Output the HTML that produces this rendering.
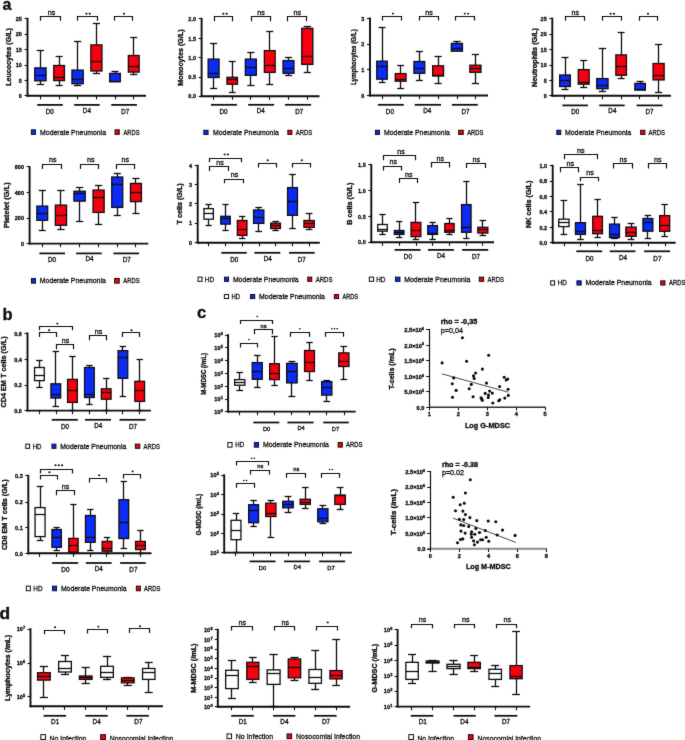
<!DOCTYPE html>
<html><head><meta charset="utf-8"><title>figure</title>
<style>
html,body{margin:0;padding:0;background:#fff;}
body{width:685px;height:740px;overflow:hidden;}
svg{display:block;font-family:"Liberation Sans", sans-serif;will-change:transform;}
text{fill:#0d0d0d;stroke:#0d0d0d;stroke-width:0.3px;}
text[font-weight=bold]{stroke-width:0.34px;}
</style></head>
<body>
<svg width="685" height="740" viewBox="0 0 685 740">
<defs><filter id="soft" x="0" y="0" width="685" height="740" filterUnits="userSpaceOnUse" color-interpolation-filters="sRGB"><feConvolveMatrix order="3" kernelMatrix="0.015 0.06 0.015 0.06 0.7 0.06 0.015 0.06 0.015" edgeMode="duplicate"/></filter></defs>
<g filter="url(#soft)">
<rect width="685" height="740" fill="#fff"/>
<line x1="27.5" y1="17.75" x2="27.5" y2="96.75" stroke="#0d0d0d" stroke-width="1.9" stroke-linecap="butt"/>
<line x1="26.65" y1="95.8" x2="146" y2="95.8" stroke="#0d0d0d" stroke-width="1.9" stroke-linecap="butt"/>
<line x1="24.5" y1="18.5" x2="27.5" y2="18.5" stroke="#0d0d0d" stroke-width="1.1" stroke-linecap="butt"/>
<text x="21.9" y="20.8" font-size="6.2" font-weight="bold" text-anchor="end" textLength="6.12" lengthAdjust="spacingAndGlyphs">25</text>
<line x1="24.5" y1="34.5" x2="27.5" y2="34.5" stroke="#0d0d0d" stroke-width="1.1" stroke-linecap="butt"/>
<text x="21.9" y="36.3" font-size="6.2" font-weight="bold" text-anchor="end" textLength="6.12" lengthAdjust="spacingAndGlyphs">20</text>
<line x1="24.5" y1="49.5" x2="27.5" y2="49.5" stroke="#0d0d0d" stroke-width="1.1" stroke-linecap="butt"/>
<text x="21.9" y="51.8" font-size="6.2" font-weight="bold" text-anchor="end" textLength="6.12" lengthAdjust="spacingAndGlyphs">15</text>
<line x1="24.5" y1="65.5" x2="27.5" y2="65.5" stroke="#0d0d0d" stroke-width="1.1" stroke-linecap="butt"/>
<text x="21.9" y="67.3" font-size="6.2" font-weight="bold" text-anchor="end" textLength="6.12" lengthAdjust="spacingAndGlyphs">10</text>
<line x1="24.5" y1="80.5" x2="27.5" y2="80.5" stroke="#0d0d0d" stroke-width="1.1" stroke-linecap="butt"/>
<text x="21.9" y="82.7" font-size="6.2" font-weight="bold" text-anchor="end" textLength="3.06" lengthAdjust="spacingAndGlyphs">5</text>
<line x1="24.5" y1="95.5" x2="27.5" y2="95.5" stroke="#0d0d0d" stroke-width="1.1" stroke-linecap="butt"/>
<text x="21.9" y="98" font-size="6.2" font-weight="bold" text-anchor="end" textLength="3.06" lengthAdjust="spacingAndGlyphs">0</text>
<line x1="40.5" y1="95.8" x2="40.5" y2="99.4" stroke="#0d0d0d" stroke-width="1.1" stroke-linecap="butt"/>
<line x1="59.5" y1="95.8" x2="59.5" y2="99.4" stroke="#0d0d0d" stroke-width="1.1" stroke-linecap="butt"/>
<line x1="77.5" y1="95.8" x2="77.5" y2="99.4" stroke="#0d0d0d" stroke-width="1.1" stroke-linecap="butt"/>
<line x1="96.5" y1="95.8" x2="96.5" y2="99.4" stroke="#0d0d0d" stroke-width="1.1" stroke-linecap="butt"/>
<line x1="115.5" y1="95.8" x2="115.5" y2="99.4" stroke="#0d0d0d" stroke-width="1.1" stroke-linecap="butt"/>
<line x1="133.5" y1="95.8" x2="133.5" y2="99.4" stroke="#0d0d0d" stroke-width="1.1" stroke-linecap="butt"/>
<text transform="translate(10.8,57) rotate(-90)" x="0" y="0" font-size="8.1" font-weight="bold" text-anchor="middle" textLength="57.7" lengthAdjust="spacingAndGlyphs">Leucocytes (G/L)</text>
<line x1="40.5" y1="50.1" x2="40.5" y2="67.9" stroke="#0d0d0d" stroke-width="1.3" stroke-linecap="butt"/>
<line x1="36.75" y1="50.5" x2="44.05" y2="50.5" stroke="#0d0d0d" stroke-width="1.3" stroke-linecap="butt"/>
<line x1="40.5" y1="80.8" x2="40.5" y2="84.2" stroke="#0d0d0d" stroke-width="1.3" stroke-linecap="butt"/>
<line x1="36.75" y1="84.5" x2="44.05" y2="84.5" stroke="#0d0d0d" stroke-width="1.3" stroke-linecap="butt"/>
<rect x="34.75" y="67.9" width="11.3" height="12.9" fill="#0b2cf6" stroke="#0d0d0d" stroke-width="1.3"/>
<line x1="34.75" y1="75.5" x2="46.05" y2="75.5" stroke="#0d0d0d" stroke-width="1.3" stroke-linecap="butt"/>
<line x1="59.5" y1="56.5" x2="59.5" y2="65.5" stroke="#0d0d0d" stroke-width="1.3" stroke-linecap="butt"/>
<line x1="55.62" y1="56.5" x2="62.58" y2="56.5" stroke="#0d0d0d" stroke-width="1.3" stroke-linecap="butt"/>
<line x1="59.5" y1="80.6" x2="59.5" y2="85.2" stroke="#0d0d0d" stroke-width="1.3" stroke-linecap="butt"/>
<line x1="55.62" y1="85.5" x2="62.58" y2="85.5" stroke="#0d0d0d" stroke-width="1.3" stroke-linecap="butt"/>
<rect x="53.75" y="65.5" width="10.7" height="15.1" fill="#f7000f" stroke="#0d0d0d" stroke-width="1.3"/>
<line x1="53.75" y1="77.5" x2="64.45" y2="77.5" stroke="#0d0d0d" stroke-width="1.3" stroke-linecap="butt"/>
<line x1="77.5" y1="41.5" x2="77.5" y2="70.1" stroke="#0d0d0d" stroke-width="1.3" stroke-linecap="butt"/>
<line x1="73.95" y1="41.5" x2="81.25" y2="41.5" stroke="#0d0d0d" stroke-width="1.3" stroke-linecap="butt"/>
<line x1="77.5" y1="83.7" x2="77.5" y2="85" stroke="#0d0d0d" stroke-width="1.3" stroke-linecap="butt"/>
<line x1="73.95" y1="85.5" x2="81.25" y2="85.5" stroke="#0d0d0d" stroke-width="1.3" stroke-linecap="butt"/>
<rect x="71.95" y="70.1" width="11.3" height="13.6" fill="#0b2cf6" stroke="#0d0d0d" stroke-width="1.3"/>
<line x1="71.95" y1="79.5" x2="83.25" y2="79.5" stroke="#0d0d0d" stroke-width="1.3" stroke-linecap="butt"/>
<line x1="96.5" y1="23" x2="96.5" y2="44.9" stroke="#0d0d0d" stroke-width="1.3" stroke-linecap="butt"/>
<line x1="92.8" y1="23.5" x2="100" y2="23.5" stroke="#0d0d0d" stroke-width="1.3" stroke-linecap="butt"/>
<line x1="96.5" y1="71" x2="96.5" y2="73.1" stroke="#0d0d0d" stroke-width="1.3" stroke-linecap="butt"/>
<line x1="92.8" y1="73.5" x2="100" y2="73.5" stroke="#0d0d0d" stroke-width="1.3" stroke-linecap="butt"/>
<rect x="90.85" y="44.9" width="11.1" height="26.1" fill="#f7000f" stroke="#0d0d0d" stroke-width="1.3"/>
<line x1="90.85" y1="61.5" x2="101.95" y2="61.5" stroke="#0d0d0d" stroke-width="1.3" stroke-linecap="butt"/>
<line x1="115.5" y1="71.2" x2="115.5" y2="73.4" stroke="#0d0d0d" stroke-width="1.3" stroke-linecap="butt"/>
<line x1="111.52" y1="71.5" x2="118.48" y2="71.5" stroke="#0d0d0d" stroke-width="1.3" stroke-linecap="butt"/>
<rect x="109.65" y="73.4" width="10.7" height="8.3" fill="#0b2cf6" stroke="#0d0d0d" stroke-width="1.3"/>
<line x1="109.65" y1="81.5" x2="120.35" y2="81.5" stroke="#0d0d0d" stroke-width="1.3" stroke-linecap="butt"/>
<line x1="133.5" y1="37.1" x2="133.5" y2="55.5" stroke="#0d0d0d" stroke-width="1.3" stroke-linecap="butt"/>
<line x1="130.24" y1="37.5" x2="137.26" y2="37.5" stroke="#0d0d0d" stroke-width="1.3" stroke-linecap="butt"/>
<line x1="133.5" y1="72.1" x2="133.5" y2="74.5" stroke="#0d0d0d" stroke-width="1.3" stroke-linecap="butt"/>
<line x1="130.24" y1="74.5" x2="137.26" y2="74.5" stroke="#0d0d0d" stroke-width="1.3" stroke-linecap="butt"/>
<rect x="128.35" y="55.5" width="10.8" height="16.6" fill="#f7000f" stroke="#0d0d0d" stroke-width="1.3"/>
<line x1="128.35" y1="66.5" x2="139.15" y2="66.5" stroke="#0d0d0d" stroke-width="1.3" stroke-linecap="butt"/>
<path d="M40.5 20.8V16.5H60.5V20.8" fill="none" stroke="#0d0d0d" stroke-width="1.2"/>
<text x="51.5" y="14.8" font-size="7.2" text-anchor="middle">ns</text>
<path d="M77.5 20.8V16.5H97.5V20.8" fill="none" stroke="#0d0d0d" stroke-width="1.2"/>
<ellipse cx="86.45" cy="13.8" rx="1.1" ry="0.95" fill="#0d0d0d"/>
<ellipse cx="89.75" cy="13.8" rx="1.1" ry="0.95" fill="#0d0d0d"/>
<path d="M114.5 20.8V16.5H132.5V20.8" fill="none" stroke="#0d0d0d" stroke-width="1.2"/>
<ellipse cx="124" cy="13.8" rx="1.1" ry="0.95" fill="#0d0d0d"/>
<line x1="37.2" y1="104.9" x2="62.8" y2="104.9" stroke="#0d0d0d" stroke-width="1.75" stroke-linecap="butt"/>
<text x="49.8" y="113.9" font-size="6.3" text-anchor="middle">D0</text>
<line x1="74.2" y1="104.9" x2="99.7" y2="104.9" stroke="#0d0d0d" stroke-width="1.75" stroke-linecap="butt"/>
<text x="86.9" y="113" font-size="6.3" text-anchor="middle">D4</text>
<line x1="111.2" y1="104.9" x2="136.9" y2="104.9" stroke="#0d0d0d" stroke-width="1.75" stroke-linecap="butt"/>
<text x="125.2" y="113.9" font-size="6.3" text-anchor="middle">D7</text>
<rect x="31.35" y="129.85" width="4.1" height="4.5" fill="#0b2cf6" stroke="#0d0d0d" stroke-width="1"/>
<text x="40.1" y="134.6" font-size="7.9" text-anchor="start" textLength="65.9" lengthAdjust="spacingAndGlyphs">Moderate Pneumonia</text>
<rect x="115.05" y="129.85" width="4.2" height="4.5" fill="#f7000f" stroke="#0d0d0d" stroke-width="1"/>
<text x="123.5" y="134.6" font-size="7.9" text-anchor="start" textLength="16" lengthAdjust="spacingAndGlyphs">ARDS</text>
<line x1="201.6" y1="17.75" x2="201.6" y2="97.15" stroke="#0d0d0d" stroke-width="1.9" stroke-linecap="butt"/>
<line x1="200.75" y1="96.2" x2="319.5" y2="96.2" stroke="#0d0d0d" stroke-width="1.9" stroke-linecap="butt"/>
<line x1="198.6" y1="18.5" x2="201.6" y2="18.5" stroke="#0d0d0d" stroke-width="1.1" stroke-linecap="butt"/>
<text x="196" y="20.8" font-size="6.2" font-weight="bold" text-anchor="end" textLength="7.64" lengthAdjust="spacingAndGlyphs">2.0</text>
<line x1="198.6" y1="38.5" x2="201.6" y2="38.5" stroke="#0d0d0d" stroke-width="1.1" stroke-linecap="butt"/>
<text x="196" y="40.5" font-size="6.2" font-weight="bold" text-anchor="end" textLength="7.64" lengthAdjust="spacingAndGlyphs">1.5</text>
<line x1="198.6" y1="57.5" x2="201.6" y2="57.5" stroke="#0d0d0d" stroke-width="1.1" stroke-linecap="butt"/>
<text x="196" y="59.7" font-size="6.2" font-weight="bold" text-anchor="end" textLength="7.64" lengthAdjust="spacingAndGlyphs">1.0</text>
<line x1="198.6" y1="77.5" x2="201.6" y2="77.5" stroke="#0d0d0d" stroke-width="1.1" stroke-linecap="butt"/>
<text x="196" y="79.2" font-size="6.2" font-weight="bold" text-anchor="end" textLength="7.64" lengthAdjust="spacingAndGlyphs">0.5</text>
<line x1="198.6" y1="96.5" x2="201.6" y2="96.5" stroke="#0d0d0d" stroke-width="1.1" stroke-linecap="butt"/>
<text x="196" y="98.4" font-size="6.2" font-weight="bold" text-anchor="end" textLength="7.64" lengthAdjust="spacingAndGlyphs">0.0</text>
<line x1="213.5" y1="96.2" x2="213.5" y2="99.8" stroke="#0d0d0d" stroke-width="1.1" stroke-linecap="butt"/>
<line x1="232.5" y1="96.2" x2="232.5" y2="99.8" stroke="#0d0d0d" stroke-width="1.1" stroke-linecap="butt"/>
<line x1="250.5" y1="96.2" x2="250.5" y2="99.8" stroke="#0d0d0d" stroke-width="1.1" stroke-linecap="butt"/>
<line x1="269.5" y1="96.2" x2="269.5" y2="99.8" stroke="#0d0d0d" stroke-width="1.1" stroke-linecap="butt"/>
<line x1="288.5" y1="96.2" x2="288.5" y2="99.8" stroke="#0d0d0d" stroke-width="1.1" stroke-linecap="butt"/>
<line x1="307.5" y1="96.2" x2="307.5" y2="99.8" stroke="#0d0d0d" stroke-width="1.1" stroke-linecap="butt"/>
<text transform="translate(182.6,57.5) rotate(-90)" x="0" y="0" font-size="8.1" font-weight="bold" text-anchor="middle" textLength="56.5" lengthAdjust="spacingAndGlyphs">Monocytes (G/L)</text>
<line x1="213.5" y1="43.1" x2="213.5" y2="59.1" stroke="#0d0d0d" stroke-width="1.3" stroke-linecap="butt"/>
<line x1="210.06" y1="43.5" x2="217.14" y2="43.5" stroke="#0d0d0d" stroke-width="1.3" stroke-linecap="butt"/>
<line x1="213.5" y1="77.5" x2="213.5" y2="88.2" stroke="#0d0d0d" stroke-width="1.3" stroke-linecap="butt"/>
<line x1="210.06" y1="88.5" x2="217.14" y2="88.5" stroke="#0d0d0d" stroke-width="1.3" stroke-linecap="butt"/>
<rect x="208.15" y="59.1" width="10.9" height="18.4" fill="#0b2cf6" stroke="#0d0d0d" stroke-width="1.3"/>
<line x1="208.15" y1="73.5" x2="219.05" y2="73.5" stroke="#0d0d0d" stroke-width="1.3" stroke-linecap="butt"/>
<line x1="232.5" y1="61.2" x2="232.5" y2="77.3" stroke="#0d0d0d" stroke-width="1.3" stroke-linecap="butt"/>
<line x1="228.78" y1="61.5" x2="235.62" y2="61.5" stroke="#0d0d0d" stroke-width="1.3" stroke-linecap="butt"/>
<line x1="232.5" y1="84.2" x2="232.5" y2="92.4" stroke="#0d0d0d" stroke-width="1.3" stroke-linecap="butt"/>
<line x1="228.78" y1="92.5" x2="235.62" y2="92.5" stroke="#0d0d0d" stroke-width="1.3" stroke-linecap="butt"/>
<rect x="226.95" y="77.3" width="10.5" height="6.9" fill="#f7000f" stroke="#0d0d0d" stroke-width="1.3"/>
<line x1="226.95" y1="79.5" x2="237.45" y2="79.5" stroke="#0d0d0d" stroke-width="1.3" stroke-linecap="butt"/>
<line x1="250.5" y1="52.7" x2="250.5" y2="59.1" stroke="#0d0d0d" stroke-width="1.3" stroke-linecap="butt"/>
<line x1="247.28" y1="52.5" x2="254.42" y2="52.5" stroke="#0d0d0d" stroke-width="1.3" stroke-linecap="butt"/>
<line x1="250.5" y1="75.3" x2="250.5" y2="85.4" stroke="#0d0d0d" stroke-width="1.3" stroke-linecap="butt"/>
<line x1="247.28" y1="85.5" x2="254.42" y2="85.5" stroke="#0d0d0d" stroke-width="1.3" stroke-linecap="butt"/>
<rect x="245.35" y="59.1" width="11" height="16.2" fill="#0b2cf6" stroke="#0d0d0d" stroke-width="1.3"/>
<line x1="245.35" y1="67.5" x2="256.35" y2="67.5" stroke="#0d0d0d" stroke-width="1.3" stroke-linecap="butt"/>
<line x1="269.5" y1="31.7" x2="269.5" y2="50.6" stroke="#0d0d0d" stroke-width="1.3" stroke-linecap="butt"/>
<line x1="266.24" y1="31.5" x2="273.26" y2="31.5" stroke="#0d0d0d" stroke-width="1.3" stroke-linecap="butt"/>
<line x1="269.5" y1="72.4" x2="269.5" y2="84.5" stroke="#0d0d0d" stroke-width="1.3" stroke-linecap="butt"/>
<line x1="266.24" y1="84.5" x2="273.26" y2="84.5" stroke="#0d0d0d" stroke-width="1.3" stroke-linecap="butt"/>
<rect x="264.35" y="50.6" width="10.8" height="21.8" fill="#f7000f" stroke="#0d0d0d" stroke-width="1.3"/>
<line x1="264.35" y1="65.5" x2="275.15" y2="65.5" stroke="#0d0d0d" stroke-width="1.3" stroke-linecap="butt"/>
<line x1="288.5" y1="57.6" x2="288.5" y2="60.6" stroke="#0d0d0d" stroke-width="1.3" stroke-linecap="butt"/>
<line x1="284.96" y1="57.5" x2="292.04" y2="57.5" stroke="#0d0d0d" stroke-width="1.3" stroke-linecap="butt"/>
<line x1="288.5" y1="73.3" x2="288.5" y2="75.6" stroke="#0d0d0d" stroke-width="1.3" stroke-linecap="butt"/>
<line x1="284.96" y1="75.5" x2="292.04" y2="75.5" stroke="#0d0d0d" stroke-width="1.3" stroke-linecap="butt"/>
<rect x="283.05" y="60.6" width="10.9" height="12.7" fill="#0b2cf6" stroke="#0d0d0d" stroke-width="1.3"/>
<line x1="283.05" y1="68.5" x2="293.95" y2="68.5" stroke="#0d0d0d" stroke-width="1.3" stroke-linecap="butt"/>
<line x1="307.5" y1="26.4" x2="307.5" y2="28.3" stroke="#0d0d0d" stroke-width="1.3" stroke-linecap="butt"/>
<line x1="303.7" y1="26.5" x2="310.9" y2="26.5" stroke="#0d0d0d" stroke-width="1.3" stroke-linecap="butt"/>
<line x1="307.5" y1="64.4" x2="307.5" y2="72" stroke="#0d0d0d" stroke-width="1.3" stroke-linecap="butt"/>
<line x1="303.7" y1="72.5" x2="310.9" y2="72.5" stroke="#0d0d0d" stroke-width="1.3" stroke-linecap="butt"/>
<rect x="301.75" y="28.3" width="11.1" height="36.1" fill="#f7000f" stroke="#0d0d0d" stroke-width="1.3"/>
<line x1="301.75" y1="56.5" x2="312.85" y2="56.5" stroke="#0d0d0d" stroke-width="1.3" stroke-linecap="butt"/>
<path d="M214.5 21.2V16.5H232.5V21.2" fill="none" stroke="#0d0d0d" stroke-width="1.2"/>
<ellipse cx="223.35" cy="13.8" rx="1.1" ry="0.95" fill="#0d0d0d"/>
<ellipse cx="226.65" cy="13.8" rx="1.1" ry="0.95" fill="#0d0d0d"/>
<path d="M251.5 21.2V16.5H270.5V21.2" fill="none" stroke="#0d0d0d" stroke-width="1.2"/>
<text x="261" y="14.8" font-size="7.2" text-anchor="middle">ns</text>
<path d="M287.5 21.2V16.5H306.5V21.2" fill="none" stroke="#0d0d0d" stroke-width="1.2"/>
<text x="297.4" y="14.8" font-size="7.2" text-anchor="middle">ns</text>
<line x1="211" y1="104.8" x2="236.9" y2="104.8" stroke="#0d0d0d" stroke-width="1.75" stroke-linecap="butt"/>
<text x="223.6" y="113.6" font-size="6.3" text-anchor="middle">D0</text>
<line x1="248.1" y1="104.8" x2="274.1" y2="104.8" stroke="#0d0d0d" stroke-width="1.75" stroke-linecap="butt"/>
<text x="260.8" y="112.7" font-size="6.3" text-anchor="middle">D4</text>
<line x1="284.9" y1="104.8" x2="311.1" y2="104.8" stroke="#0d0d0d" stroke-width="1.75" stroke-linecap="butt"/>
<text x="299.2" y="113.6" font-size="6.3" text-anchor="middle">D7</text>
<rect x="203.85" y="130.25" width="4.2" height="4.2" fill="#0b2cf6" stroke="#0d0d0d" stroke-width="1"/>
<text x="213" y="134.7" font-size="7.9" text-anchor="start" textLength="65.8" lengthAdjust="spacingAndGlyphs">Moderate Pneumonia</text>
<rect x="287.85" y="130.25" width="4" height="4.2" fill="#f7000f" stroke="#0d0d0d" stroke-width="1"/>
<text x="295.8" y="134.7" font-size="7.9" text-anchor="start" textLength="16.3" lengthAdjust="spacingAndGlyphs">ARDS</text>
<line x1="370" y1="17.55" x2="370" y2="96.45" stroke="#0d0d0d" stroke-width="1.9" stroke-linecap="butt"/>
<line x1="369.15" y1="95.5" x2="488" y2="95.5" stroke="#0d0d0d" stroke-width="1.9" stroke-linecap="butt"/>
<line x1="367" y1="18.5" x2="370" y2="18.5" stroke="#0d0d0d" stroke-width="1.1" stroke-linecap="butt"/>
<text x="364.4" y="20.6" font-size="6.2" font-weight="bold" text-anchor="end" textLength="3.06" lengthAdjust="spacingAndGlyphs">3</text>
<line x1="367" y1="44.5" x2="370" y2="44.5" stroke="#0d0d0d" stroke-width="1.1" stroke-linecap="butt"/>
<text x="364.4" y="46.4" font-size="6.2" font-weight="bold" text-anchor="end" textLength="3.06" lengthAdjust="spacingAndGlyphs">2</text>
<line x1="367" y1="69.5" x2="370" y2="69.5" stroke="#0d0d0d" stroke-width="1.1" stroke-linecap="butt"/>
<text x="364.4" y="72" font-size="6.2" font-weight="bold" text-anchor="end" textLength="3.06" lengthAdjust="spacingAndGlyphs">1</text>
<line x1="367" y1="95.5" x2="370" y2="95.5" stroke="#0d0d0d" stroke-width="1.1" stroke-linecap="butt"/>
<text x="364.4" y="97.7" font-size="6.2" font-weight="bold" text-anchor="end" textLength="3.06" lengthAdjust="spacingAndGlyphs">0</text>
<line x1="382.5" y1="95.5" x2="382.5" y2="99.1" stroke="#0d0d0d" stroke-width="1.1" stroke-linecap="butt"/>
<line x1="400.5" y1="95.5" x2="400.5" y2="99.1" stroke="#0d0d0d" stroke-width="1.1" stroke-linecap="butt"/>
<line x1="419.5" y1="95.5" x2="419.5" y2="99.1" stroke="#0d0d0d" stroke-width="1.1" stroke-linecap="butt"/>
<line x1="438.5" y1="95.5" x2="438.5" y2="99.1" stroke="#0d0d0d" stroke-width="1.1" stroke-linecap="butt"/>
<line x1="457.5" y1="95.5" x2="457.5" y2="99.1" stroke="#0d0d0d" stroke-width="1.1" stroke-linecap="butt"/>
<line x1="475.5" y1="95.5" x2="475.5" y2="99.1" stroke="#0d0d0d" stroke-width="1.1" stroke-linecap="butt"/>
<text transform="translate(356.4,57.2) rotate(-90)" x="0" y="0" font-size="8.1" font-weight="bold" text-anchor="middle" textLength="55.8" lengthAdjust="spacingAndGlyphs">Lymphocytes (G/L)</text>
<line x1="382.5" y1="27.3" x2="382.5" y2="61.2" stroke="#0d0d0d" stroke-width="1.3" stroke-linecap="butt"/>
<line x1="378.58" y1="27.5" x2="385.42" y2="27.5" stroke="#0d0d0d" stroke-width="1.3" stroke-linecap="butt"/>
<line x1="382.5" y1="79.2" x2="382.5" y2="82.5" stroke="#0d0d0d" stroke-width="1.3" stroke-linecap="butt"/>
<line x1="378.58" y1="82.5" x2="385.42" y2="82.5" stroke="#0d0d0d" stroke-width="1.3" stroke-linecap="butt"/>
<rect x="376.75" y="61.2" width="10.5" height="18" fill="#0b2cf6" stroke="#0d0d0d" stroke-width="1.3"/>
<line x1="376.75" y1="66.5" x2="387.25" y2="66.5" stroke="#0d0d0d" stroke-width="1.3" stroke-linecap="butt"/>
<line x1="400.5" y1="65.7" x2="400.5" y2="73.6" stroke="#0d0d0d" stroke-width="1.3" stroke-linecap="butt"/>
<line x1="397.14" y1="65.5" x2="404.16" y2="65.5" stroke="#0d0d0d" stroke-width="1.3" stroke-linecap="butt"/>
<line x1="400.5" y1="81.2" x2="400.5" y2="88.2" stroke="#0d0d0d" stroke-width="1.3" stroke-linecap="butt"/>
<line x1="397.14" y1="88.5" x2="404.16" y2="88.5" stroke="#0d0d0d" stroke-width="1.3" stroke-linecap="butt"/>
<rect x="395.25" y="73.6" width="10.8" height="7.6" fill="#f7000f" stroke="#0d0d0d" stroke-width="1.3"/>
<line x1="395.25" y1="79.5" x2="406.05" y2="79.5" stroke="#0d0d0d" stroke-width="1.3" stroke-linecap="butt"/>
<line x1="419.5" y1="51.4" x2="419.5" y2="61.5" stroke="#0d0d0d" stroke-width="1.3" stroke-linecap="butt"/>
<line x1="415.84" y1="51.5" x2="422.86" y2="51.5" stroke="#0d0d0d" stroke-width="1.3" stroke-linecap="butt"/>
<line x1="419.5" y1="73.3" x2="419.5" y2="80.3" stroke="#0d0d0d" stroke-width="1.3" stroke-linecap="butt"/>
<line x1="415.84" y1="80.5" x2="422.86" y2="80.5" stroke="#0d0d0d" stroke-width="1.3" stroke-linecap="butt"/>
<rect x="413.95" y="61.5" width="10.8" height="11.8" fill="#0b2cf6" stroke="#0d0d0d" stroke-width="1.3"/>
<line x1="413.95" y1="68.5" x2="424.75" y2="68.5" stroke="#0d0d0d" stroke-width="1.3" stroke-linecap="butt"/>
<line x1="438.5" y1="56.2" x2="438.5" y2="65.8" stroke="#0d0d0d" stroke-width="1.3" stroke-linecap="butt"/>
<line x1="434.56" y1="56.5" x2="441.64" y2="56.5" stroke="#0d0d0d" stroke-width="1.3" stroke-linecap="butt"/>
<line x1="438.5" y1="76" x2="438.5" y2="83.4" stroke="#0d0d0d" stroke-width="1.3" stroke-linecap="butt"/>
<line x1="434.56" y1="83.5" x2="441.64" y2="83.5" stroke="#0d0d0d" stroke-width="1.3" stroke-linecap="butt"/>
<rect x="432.65" y="65.8" width="10.9" height="10.2" fill="#f7000f" stroke="#0d0d0d" stroke-width="1.3"/>
<line x1="432.65" y1="75.5" x2="443.55" y2="75.5" stroke="#0d0d0d" stroke-width="1.3" stroke-linecap="butt"/>
<line x1="456.5" y1="41.8" x2="456.5" y2="43.4" stroke="#0d0d0d" stroke-width="1.3" stroke-linecap="butt"/>
<line x1="453.3" y1="41.5" x2="460.5" y2="41.5" stroke="#0d0d0d" stroke-width="1.3" stroke-linecap="butt"/>
<rect x="451.35" y="43.4" width="11.1" height="7.8" fill="#0b2cf6" stroke="#0d0d0d" stroke-width="1.3"/>
<line x1="451.35" y1="48.5" x2="462.45" y2="48.5" stroke="#0d0d0d" stroke-width="1.3" stroke-linecap="butt"/>
<line x1="475.5" y1="54.7" x2="475.5" y2="65.2" stroke="#0d0d0d" stroke-width="1.3" stroke-linecap="butt"/>
<line x1="471.8" y1="54.5" x2="479" y2="54.5" stroke="#0d0d0d" stroke-width="1.3" stroke-linecap="butt"/>
<line x1="475.5" y1="72.3" x2="475.5" y2="83.2" stroke="#0d0d0d" stroke-width="1.3" stroke-linecap="butt"/>
<line x1="471.8" y1="83.5" x2="479" y2="83.5" stroke="#0d0d0d" stroke-width="1.3" stroke-linecap="butt"/>
<rect x="469.85" y="65.2" width="11.1" height="7.1" fill="#f7000f" stroke="#0d0d0d" stroke-width="1.3"/>
<line x1="469.85" y1="68.5" x2="480.95" y2="68.5" stroke="#0d0d0d" stroke-width="1.3" stroke-linecap="butt"/>
<path d="M382.5 20.6V16.5H401.5V20.6" fill="none" stroke="#0d0d0d" stroke-width="1.2"/>
<ellipse cx="393" cy="13.6" rx="1.1" ry="0.95" fill="#0d0d0d"/>
<path d="M419.5 20.6V16.5H438.5V20.6" fill="none" stroke="#0d0d0d" stroke-width="1.2"/>
<text x="429" y="14.6" font-size="7.2" text-anchor="middle">ns</text>
<path d="M455.5 20.6V16.5H474.5V20.6" fill="none" stroke="#0d0d0d" stroke-width="1.2"/>
<ellipse cx="464.85" cy="13.6" rx="1.1" ry="0.95" fill="#0d0d0d"/>
<ellipse cx="468.15" cy="13.6" rx="1.1" ry="0.95" fill="#0d0d0d"/>
<line x1="377.9" y1="104.8" x2="403.8" y2="104.8" stroke="#0d0d0d" stroke-width="1.75" stroke-linecap="butt"/>
<text x="389.9" y="113.6" font-size="6.3" text-anchor="middle">D0</text>
<line x1="414.7" y1="104.8" x2="441" y2="104.8" stroke="#0d0d0d" stroke-width="1.75" stroke-linecap="butt"/>
<text x="427.3" y="112.7" font-size="6.3" text-anchor="middle">D4</text>
<line x1="451.9" y1="104.8" x2="477.8" y2="104.8" stroke="#0d0d0d" stroke-width="1.75" stroke-linecap="butt"/>
<text x="465.6" y="113.6" font-size="6.3" text-anchor="middle">D7</text>
<rect x="375.45" y="130.25" width="4" height="4.2" fill="#0b2cf6" stroke="#0d0d0d" stroke-width="1"/>
<text x="384" y="134.7" font-size="7.9" text-anchor="start" textLength="65.8" lengthAdjust="spacingAndGlyphs">Moderate Pneumonia</text>
<rect x="458.65" y="130.25" width="4.6" height="4.2" fill="#f7000f" stroke="#0d0d0d" stroke-width="1"/>
<text x="467.2" y="134.7" font-size="7.9" text-anchor="start" textLength="16.3" lengthAdjust="spacingAndGlyphs">ARDS</text>
<line x1="552.3" y1="17.65" x2="552.3" y2="96.65" stroke="#0d0d0d" stroke-width="1.9" stroke-linecap="butt"/>
<line x1="551.45" y1="95.7" x2="671" y2="95.7" stroke="#0d0d0d" stroke-width="1.9" stroke-linecap="butt"/>
<line x1="549.3" y1="18.5" x2="552.3" y2="18.5" stroke="#0d0d0d" stroke-width="1.1" stroke-linecap="butt"/>
<text x="546.7" y="20.7" font-size="6.2" font-weight="bold" text-anchor="end" textLength="6.12" lengthAdjust="spacingAndGlyphs">25</text>
<line x1="549.3" y1="34.5" x2="552.3" y2="34.5" stroke="#0d0d0d" stroke-width="1.1" stroke-linecap="butt"/>
<text x="546.7" y="36.4" font-size="6.2" font-weight="bold" text-anchor="end" textLength="6.12" lengthAdjust="spacingAndGlyphs">20</text>
<line x1="549.3" y1="49.5" x2="552.3" y2="49.5" stroke="#0d0d0d" stroke-width="1.1" stroke-linecap="butt"/>
<text x="546.7" y="51.9" font-size="6.2" font-weight="bold" text-anchor="end" textLength="6.12" lengthAdjust="spacingAndGlyphs">15</text>
<line x1="549.3" y1="65.5" x2="552.3" y2="65.5" stroke="#0d0d0d" stroke-width="1.1" stroke-linecap="butt"/>
<text x="546.7" y="67.4" font-size="6.2" font-weight="bold" text-anchor="end" textLength="6.12" lengthAdjust="spacingAndGlyphs">10</text>
<line x1="549.3" y1="80.5" x2="552.3" y2="80.5" stroke="#0d0d0d" stroke-width="1.1" stroke-linecap="butt"/>
<text x="546.7" y="82.7" font-size="6.2" font-weight="bold" text-anchor="end" textLength="3.06" lengthAdjust="spacingAndGlyphs">5</text>
<line x1="549.3" y1="95.5" x2="552.3" y2="95.5" stroke="#0d0d0d" stroke-width="1.1" stroke-linecap="butt"/>
<text x="546.7" y="97.9" font-size="6.2" font-weight="bold" text-anchor="end" textLength="3.06" lengthAdjust="spacingAndGlyphs">0</text>
<line x1="564.5" y1="95.7" x2="564.5" y2="99.3" stroke="#0d0d0d" stroke-width="1.1" stroke-linecap="butt"/>
<line x1="583.5" y1="95.7" x2="583.5" y2="99.3" stroke="#0d0d0d" stroke-width="1.1" stroke-linecap="butt"/>
<line x1="602.5" y1="95.7" x2="602.5" y2="99.3" stroke="#0d0d0d" stroke-width="1.1" stroke-linecap="butt"/>
<line x1="621.5" y1="95.7" x2="621.5" y2="99.3" stroke="#0d0d0d" stroke-width="1.1" stroke-linecap="butt"/>
<line x1="639.5" y1="95.7" x2="639.5" y2="99.3" stroke="#0d0d0d" stroke-width="1.1" stroke-linecap="butt"/>
<line x1="658.5" y1="95.7" x2="658.5" y2="99.3" stroke="#0d0d0d" stroke-width="1.1" stroke-linecap="butt"/>
<text transform="translate(536.6,57.5) rotate(-90)" x="0" y="0" font-size="8.1" font-weight="bold" text-anchor="middle" textLength="59" lengthAdjust="spacingAndGlyphs">Neutrophils (G/L)</text>
<line x1="565.5" y1="57.6" x2="565.5" y2="75" stroke="#0d0d0d" stroke-width="1.3" stroke-linecap="butt"/>
<line x1="561.52" y1="57.5" x2="568.48" y2="57.5" stroke="#0d0d0d" stroke-width="1.3" stroke-linecap="butt"/>
<line x1="565.5" y1="86.5" x2="565.5" y2="89.1" stroke="#0d0d0d" stroke-width="1.3" stroke-linecap="butt"/>
<line x1="561.52" y1="89.5" x2="568.48" y2="89.5" stroke="#0d0d0d" stroke-width="1.3" stroke-linecap="butt"/>
<rect x="559.65" y="75" width="10.7" height="11.5" fill="#0b2cf6" stroke="#0d0d0d" stroke-width="1.3"/>
<line x1="559.65" y1="80.5" x2="570.35" y2="80.5" stroke="#0d0d0d" stroke-width="1.3" stroke-linecap="butt"/>
<line x1="583.5" y1="60.6" x2="583.5" y2="69.6" stroke="#0d0d0d" stroke-width="1.3" stroke-linecap="butt"/>
<line x1="580.16" y1="60.5" x2="587.24" y2="60.5" stroke="#0d0d0d" stroke-width="1.3" stroke-linecap="butt"/>
<line x1="583.5" y1="84.2" x2="583.5" y2="87.4" stroke="#0d0d0d" stroke-width="1.3" stroke-linecap="butt"/>
<line x1="580.16" y1="87.5" x2="587.24" y2="87.5" stroke="#0d0d0d" stroke-width="1.3" stroke-linecap="butt"/>
<rect x="578.25" y="69.6" width="10.9" height="14.6" fill="#f7000f" stroke="#0d0d0d" stroke-width="1.3"/>
<line x1="578.25" y1="82.5" x2="589.15" y2="82.5" stroke="#0d0d0d" stroke-width="1.3" stroke-linecap="butt"/>
<line x1="602.5" y1="48" x2="602.5" y2="78.6" stroke="#0d0d0d" stroke-width="1.3" stroke-linecap="butt"/>
<line x1="598.75" y1="48.5" x2="606.05" y2="48.5" stroke="#0d0d0d" stroke-width="1.3" stroke-linecap="butt"/>
<line x1="602.5" y1="88.7" x2="602.5" y2="91.7" stroke="#0d0d0d" stroke-width="1.3" stroke-linecap="butt"/>
<line x1="598.75" y1="91.5" x2="606.05" y2="91.5" stroke="#0d0d0d" stroke-width="1.3" stroke-linecap="butt"/>
<rect x="596.75" y="78.6" width="11.3" height="10.1" fill="#0b2cf6" stroke="#0d0d0d" stroke-width="1.3"/>
<line x1="596.75" y1="85.5" x2="608.05" y2="85.5" stroke="#0d0d0d" stroke-width="1.3" stroke-linecap="butt"/>
<line x1="621.5" y1="32.6" x2="621.5" y2="54.9" stroke="#0d0d0d" stroke-width="1.3" stroke-linecap="butt"/>
<line x1="617.7" y1="32.5" x2="624.6" y2="32.5" stroke="#0d0d0d" stroke-width="1.3" stroke-linecap="butt"/>
<line x1="621.5" y1="75.3" x2="621.5" y2="78.3" stroke="#0d0d0d" stroke-width="1.3" stroke-linecap="butt"/>
<line x1="617.7" y1="78.5" x2="624.6" y2="78.5" stroke="#0d0d0d" stroke-width="1.3" stroke-linecap="butt"/>
<rect x="615.85" y="54.9" width="10.6" height="20.4" fill="#f7000f" stroke="#0d0d0d" stroke-width="1.3"/>
<line x1="615.85" y1="66.5" x2="626.45" y2="66.5" stroke="#0d0d0d" stroke-width="1.3" stroke-linecap="butt"/>
<line x1="640.5" y1="81.2" x2="640.5" y2="83.4" stroke="#0d0d0d" stroke-width="1.3" stroke-linecap="butt"/>
<line x1="636.68" y1="81.5" x2="643.52" y2="81.5" stroke="#0d0d0d" stroke-width="1.3" stroke-linecap="butt"/>
<rect x="634.85" y="83.4" width="10.5" height="6.7" fill="#0b2cf6" stroke="#0d0d0d" stroke-width="1.3"/>
<line x1="634.85" y1="89.5" x2="645.35" y2="89.5" stroke="#0d0d0d" stroke-width="1.3" stroke-linecap="butt"/>
<line x1="658.5" y1="44.2" x2="658.5" y2="63.5" stroke="#0d0d0d" stroke-width="1.3" stroke-linecap="butt"/>
<line x1="655" y1="44.5" x2="662.2" y2="44.5" stroke="#0d0d0d" stroke-width="1.3" stroke-linecap="butt"/>
<line x1="658.5" y1="79.9" x2="658.5" y2="92.8" stroke="#0d0d0d" stroke-width="1.3" stroke-linecap="butt"/>
<line x1="655" y1="92.5" x2="662.2" y2="92.5" stroke="#0d0d0d" stroke-width="1.3" stroke-linecap="butt"/>
<rect x="653.05" y="63.5" width="11.1" height="16.4" fill="#f7000f" stroke="#0d0d0d" stroke-width="1.3"/>
<line x1="653.05" y1="75.5" x2="664.15" y2="75.5" stroke="#0d0d0d" stroke-width="1.3" stroke-linecap="butt"/>
<path d="M565.5 20.8V16.5H584.5V20.8" fill="none" stroke="#0d0d0d" stroke-width="1.2"/>
<text x="575.3" y="14.8" font-size="7.2" text-anchor="middle">ns</text>
<path d="M602.5 20.8V16.5H621.5V20.8" fill="none" stroke="#0d0d0d" stroke-width="1.2"/>
<ellipse cx="610.65" cy="13.8" rx="1.1" ry="0.95" fill="#0d0d0d"/>
<ellipse cx="613.95" cy="13.8" rx="1.1" ry="0.95" fill="#0d0d0d"/>
<path d="M639.5 20.8V16.5H657.5V20.8" fill="none" stroke="#0d0d0d" stroke-width="1.2"/>
<ellipse cx="648" cy="13.8" rx="1.1" ry="0.95" fill="#0d0d0d"/>
<line x1="562.4" y1="105.4" x2="587.9" y2="105.4" stroke="#0d0d0d" stroke-width="1.75" stroke-linecap="butt"/>
<text x="575.2" y="114.2" font-size="6.3" text-anchor="middle">D0</text>
<line x1="599.2" y1="105.4" x2="624.7" y2="105.4" stroke="#0d0d0d" stroke-width="1.75" stroke-linecap="butt"/>
<text x="612.4" y="113.3" font-size="6.3" text-anchor="middle">D4</text>
<line x1="636.6" y1="105.4" x2="662.5" y2="105.4" stroke="#0d0d0d" stroke-width="1.75" stroke-linecap="butt"/>
<text x="649.6" y="114.2" font-size="6.3" text-anchor="middle">D7</text>
<rect x="556.85" y="130.25" width="3.9" height="4.2" fill="#0b2cf6" stroke="#0d0d0d" stroke-width="1"/>
<text x="565" y="134.7" font-size="7.9" text-anchor="start" textLength="66.2" lengthAdjust="spacingAndGlyphs">Moderate Pneumonia</text>
<rect x="640.65" y="130.25" width="4.2" height="4.2" fill="#f7000f" stroke="#0d0d0d" stroke-width="1"/>
<text x="648.6" y="134.7" font-size="7.9" text-anchor="start" textLength="16.4" lengthAdjust="spacingAndGlyphs">ARDS</text>
<line x1="29.6" y1="166.05" x2="29.6" y2="244.55" stroke="#0d0d0d" stroke-width="1.9" stroke-linecap="butt"/>
<line x1="28.75" y1="243.6" x2="148.3" y2="243.6" stroke="#0d0d0d" stroke-width="1.9" stroke-linecap="butt"/>
<line x1="26.6" y1="166.5" x2="29.6" y2="166.5" stroke="#0d0d0d" stroke-width="1.1" stroke-linecap="butt"/>
<text x="24" y="169.1" font-size="6.2" font-weight="bold" text-anchor="end" textLength="9.18" lengthAdjust="spacingAndGlyphs">600</text>
<line x1="26.6" y1="192.5" x2="29.6" y2="192.5" stroke="#0d0d0d" stroke-width="1.1" stroke-linecap="butt"/>
<text x="24" y="194.8" font-size="6.2" font-weight="bold" text-anchor="end" textLength="9.18" lengthAdjust="spacingAndGlyphs">400</text>
<line x1="26.6" y1="218.5" x2="29.6" y2="218.5" stroke="#0d0d0d" stroke-width="1.1" stroke-linecap="butt"/>
<text x="24" y="220.4" font-size="6.2" font-weight="bold" text-anchor="end" textLength="9.18" lengthAdjust="spacingAndGlyphs">200</text>
<line x1="26.6" y1="243.5" x2="29.6" y2="243.5" stroke="#0d0d0d" stroke-width="1.1" stroke-linecap="butt"/>
<text x="24" y="245.8" font-size="6.2" font-weight="bold" text-anchor="end" textLength="3.06" lengthAdjust="spacingAndGlyphs">0</text>
<line x1="42.5" y1="243.6" x2="42.5" y2="247.2" stroke="#0d0d0d" stroke-width="1.1" stroke-linecap="butt"/>
<line x1="60.5" y1="243.6" x2="60.5" y2="247.2" stroke="#0d0d0d" stroke-width="1.1" stroke-linecap="butt"/>
<line x1="79.5" y1="243.6" x2="79.5" y2="247.2" stroke="#0d0d0d" stroke-width="1.1" stroke-linecap="butt"/>
<line x1="98.5" y1="243.6" x2="98.5" y2="247.2" stroke="#0d0d0d" stroke-width="1.1" stroke-linecap="butt"/>
<line x1="117.5" y1="243.6" x2="117.5" y2="247.2" stroke="#0d0d0d" stroke-width="1.1" stroke-linecap="butt"/>
<line x1="135.5" y1="243.6" x2="135.5" y2="247.2" stroke="#0d0d0d" stroke-width="1.1" stroke-linecap="butt"/>
<text transform="translate(8.6,205.2) rotate(-90)" x="0" y="0" font-size="8.1" font-weight="bold" text-anchor="middle" textLength="45.7" lengthAdjust="spacingAndGlyphs">Platelet (G/L)</text>
<line x1="42.5" y1="190.1" x2="42.5" y2="206.1" stroke="#0d0d0d" stroke-width="1.3" stroke-linecap="butt"/>
<line x1="38.74" y1="190.5" x2="45.76" y2="190.5" stroke="#0d0d0d" stroke-width="1.3" stroke-linecap="butt"/>
<line x1="42.5" y1="220.3" x2="42.5" y2="230.4" stroke="#0d0d0d" stroke-width="1.3" stroke-linecap="butt"/>
<line x1="38.74" y1="230.5" x2="45.76" y2="230.5" stroke="#0d0d0d" stroke-width="1.3" stroke-linecap="butt"/>
<rect x="36.85" y="206.1" width="10.8" height="14.2" fill="#0b2cf6" stroke="#0d0d0d" stroke-width="1.3"/>
<line x1="36.85" y1="213.5" x2="47.65" y2="213.5" stroke="#0d0d0d" stroke-width="1.3" stroke-linecap="butt"/>
<line x1="60.5" y1="190.5" x2="60.5" y2="205.1" stroke="#0d0d0d" stroke-width="1.3" stroke-linecap="butt"/>
<line x1="57.33" y1="190.5" x2="64.58" y2="190.5" stroke="#0d0d0d" stroke-width="1.3" stroke-linecap="butt"/>
<line x1="60.5" y1="225.3" x2="60.5" y2="229.5" stroke="#0d0d0d" stroke-width="1.3" stroke-linecap="butt"/>
<line x1="57.33" y1="229.5" x2="64.58" y2="229.5" stroke="#0d0d0d" stroke-width="1.3" stroke-linecap="butt"/>
<rect x="55.35" y="205.1" width="11.2" height="20.2" fill="#f7000f" stroke="#0d0d0d" stroke-width="1.3"/>
<line x1="55.35" y1="215.5" x2="66.55" y2="215.5" stroke="#0d0d0d" stroke-width="1.3" stroke-linecap="butt"/>
<line x1="79.5" y1="187.4" x2="79.5" y2="191.2" stroke="#0d0d0d" stroke-width="1.3" stroke-linecap="butt"/>
<line x1="75.95" y1="187.5" x2="83.25" y2="187.5" stroke="#0d0d0d" stroke-width="1.3" stroke-linecap="butt"/>
<line x1="79.5" y1="201.1" x2="79.5" y2="221.2" stroke="#0d0d0d" stroke-width="1.3" stroke-linecap="butt"/>
<line x1="75.95" y1="221.5" x2="83.25" y2="221.5" stroke="#0d0d0d" stroke-width="1.3" stroke-linecap="butt"/>
<rect x="73.95" y="191.2" width="11.3" height="9.9" fill="#0b2cf6" stroke="#0d0d0d" stroke-width="1.3"/>
<line x1="73.95" y1="193.5" x2="85.25" y2="193.5" stroke="#0d0d0d" stroke-width="1.3" stroke-linecap="butt"/>
<line x1="98.5" y1="185.4" x2="98.5" y2="190.1" stroke="#0d0d0d" stroke-width="1.3" stroke-linecap="butt"/>
<line x1="95" y1="185.5" x2="102.2" y2="185.5" stroke="#0d0d0d" stroke-width="1.3" stroke-linecap="butt"/>
<line x1="98.5" y1="212.4" x2="98.5" y2="224.1" stroke="#0d0d0d" stroke-width="1.3" stroke-linecap="butt"/>
<line x1="95" y1="224.5" x2="102.2" y2="224.5" stroke="#0d0d0d" stroke-width="1.3" stroke-linecap="butt"/>
<rect x="93.05" y="190.1" width="11.1" height="22.3" fill="#f7000f" stroke="#0d0d0d" stroke-width="1.3"/>
<line x1="93.05" y1="197.5" x2="104.15" y2="197.5" stroke="#0d0d0d" stroke-width="1.3" stroke-linecap="butt"/>
<line x1="117.5" y1="173.6" x2="117.5" y2="177" stroke="#0d0d0d" stroke-width="1.3" stroke-linecap="butt"/>
<line x1="113.68" y1="173.5" x2="120.82" y2="173.5" stroke="#0d0d0d" stroke-width="1.3" stroke-linecap="butt"/>
<line x1="117.5" y1="207.4" x2="117.5" y2="215.5" stroke="#0d0d0d" stroke-width="1.3" stroke-linecap="butt"/>
<line x1="113.68" y1="215.5" x2="120.82" y2="215.5" stroke="#0d0d0d" stroke-width="1.3" stroke-linecap="butt"/>
<rect x="111.75" y="177" width="11" height="30.4" fill="#0b2cf6" stroke="#0d0d0d" stroke-width="1.3"/>
<line x1="111.75" y1="184.5" x2="122.75" y2="184.5" stroke="#0d0d0d" stroke-width="1.3" stroke-linecap="butt"/>
<line x1="135.5" y1="178.6" x2="135.5" y2="183.4" stroke="#0d0d0d" stroke-width="1.3" stroke-linecap="butt"/>
<line x1="132.38" y1="178.5" x2="139.52" y2="178.5" stroke="#0d0d0d" stroke-width="1.3" stroke-linecap="butt"/>
<line x1="135.5" y1="201.6" x2="135.5" y2="213.8" stroke="#0d0d0d" stroke-width="1.3" stroke-linecap="butt"/>
<line x1="132.38" y1="213.5" x2="139.52" y2="213.5" stroke="#0d0d0d" stroke-width="1.3" stroke-linecap="butt"/>
<rect x="130.45" y="183.4" width="11" height="18.2" fill="#f7000f" stroke="#0d0d0d" stroke-width="1.3"/>
<line x1="130.45" y1="192.5" x2="141.45" y2="192.5" stroke="#0d0d0d" stroke-width="1.3" stroke-linecap="butt"/>
<path d="M42.5 168.9V164.5H61.5V168.9" fill="none" stroke="#0d0d0d" stroke-width="1.2"/>
<text x="52.7" y="162.4" font-size="7.2" text-anchor="middle">ns</text>
<path d="M80.5 168.9V164.5H98.5V168.9" fill="none" stroke="#0d0d0d" stroke-width="1.2"/>
<text x="90.7" y="162.4" font-size="7.2" text-anchor="middle">ns</text>
<path d="M116.5 168.9V164.5H134.5V168.9" fill="none" stroke="#0d0d0d" stroke-width="1.2"/>
<text x="125.4" y="162.4" font-size="7.2" text-anchor="middle">ns</text>
<line x1="39.4" y1="253.4" x2="65" y2="253.4" stroke="#0d0d0d" stroke-width="1.75" stroke-linecap="butt"/>
<text x="52.1" y="262.2" font-size="6.3" text-anchor="middle">D0</text>
<line x1="76.2" y1="253.4" x2="101.7" y2="253.4" stroke="#0d0d0d" stroke-width="1.75" stroke-linecap="butt"/>
<text x="89.5" y="261.3" font-size="6.3" text-anchor="middle">D4</text>
<line x1="113.4" y1="253.4" x2="139.1" y2="253.4" stroke="#0d0d0d" stroke-width="1.75" stroke-linecap="butt"/>
<text x="126.7" y="262.2" font-size="6.3" text-anchor="middle">D7</text>
<rect x="31.45" y="278.55" width="4" height="4.6" fill="#0b2cf6" stroke="#0d0d0d" stroke-width="1"/>
<text x="39.8" y="283.4" font-size="7.9" text-anchor="start" textLength="66" lengthAdjust="spacingAndGlyphs">Moderate Pneumonia</text>
<rect x="114.65" y="278.55" width="4.6" height="4.6" fill="#f7000f" stroke="#0d0d0d" stroke-width="1"/>
<text x="123.2" y="283.4" font-size="7.9" text-anchor="start" textLength="16.4" lengthAdjust="spacingAndGlyphs">ARDS</text>
<line x1="197.7" y1="164.75" x2="197.7" y2="243.65" stroke="#0d0d0d" stroke-width="1.9" stroke-linecap="butt"/>
<line x1="196.85" y1="242.7" x2="319.8" y2="242.7" stroke="#0d0d0d" stroke-width="1.9" stroke-linecap="butt"/>
<line x1="194.7" y1="165.5" x2="197.7" y2="165.5" stroke="#0d0d0d" stroke-width="1.1" stroke-linecap="butt"/>
<text x="192.1" y="167.8" font-size="6.2" font-weight="bold" text-anchor="end" textLength="3.06" lengthAdjust="spacingAndGlyphs">4</text>
<line x1="194.7" y1="184.5" x2="197.7" y2="184.5" stroke="#0d0d0d" stroke-width="1.1" stroke-linecap="butt"/>
<text x="192.1" y="187" font-size="6.2" font-weight="bold" text-anchor="end" textLength="3.06" lengthAdjust="spacingAndGlyphs">3</text>
<line x1="194.7" y1="203.5" x2="197.7" y2="203.5" stroke="#0d0d0d" stroke-width="1.1" stroke-linecap="butt"/>
<text x="192.1" y="206.1" font-size="6.2" font-weight="bold" text-anchor="end" textLength="3.06" lengthAdjust="spacingAndGlyphs">2</text>
<line x1="194.7" y1="223.5" x2="197.7" y2="223.5" stroke="#0d0d0d" stroke-width="1.1" stroke-linecap="butt"/>
<text x="192.1" y="225.3" font-size="6.2" font-weight="bold" text-anchor="end" textLength="3.06" lengthAdjust="spacingAndGlyphs">1</text>
<line x1="194.7" y1="242.5" x2="197.7" y2="242.5" stroke="#0d0d0d" stroke-width="1.1" stroke-linecap="butt"/>
<text x="192.1" y="244.9" font-size="6.2" font-weight="bold" text-anchor="end" textLength="3.06" lengthAdjust="spacingAndGlyphs">0</text>
<line x1="208.5" y1="242.7" x2="208.5" y2="246.3" stroke="#0d0d0d" stroke-width="1.1" stroke-linecap="butt"/>
<line x1="225.5" y1="242.7" x2="225.5" y2="246.3" stroke="#0d0d0d" stroke-width="1.1" stroke-linecap="butt"/>
<line x1="242.5" y1="242.7" x2="242.5" y2="246.3" stroke="#0d0d0d" stroke-width="1.1" stroke-linecap="butt"/>
<line x1="259.5" y1="242.7" x2="259.5" y2="246.3" stroke="#0d0d0d" stroke-width="1.1" stroke-linecap="butt"/>
<line x1="275.5" y1="242.7" x2="275.5" y2="246.3" stroke="#0d0d0d" stroke-width="1.1" stroke-linecap="butt"/>
<line x1="292.5" y1="242.7" x2="292.5" y2="246.3" stroke="#0d0d0d" stroke-width="1.1" stroke-linecap="butt"/>
<line x1="309.5" y1="242.7" x2="309.5" y2="246.3" stroke="#0d0d0d" stroke-width="1.1" stroke-linecap="butt"/>
<text transform="translate(182.2,203.9) rotate(-90)" x="0" y="0" font-size="8.1" font-weight="bold" text-anchor="middle" textLength="41.2" lengthAdjust="spacingAndGlyphs">T cells (G/L)</text>
<line x1="208.5" y1="204.3" x2="208.5" y2="208.6" stroke="#0d0d0d" stroke-width="1.3" stroke-linecap="butt"/>
<line x1="205.55" y1="204.5" x2="211.75" y2="204.5" stroke="#0d0d0d" stroke-width="1.3" stroke-linecap="butt"/>
<line x1="208.5" y1="219.2" x2="208.5" y2="225.2" stroke="#0d0d0d" stroke-width="1.3" stroke-linecap="butt"/>
<line x1="205.55" y1="225.5" x2="211.75" y2="225.5" stroke="#0d0d0d" stroke-width="1.3" stroke-linecap="butt"/>
<rect x="203.95" y="208.6" width="9.4" height="10.6" fill="#ffffff" stroke="#0d0d0d" stroke-width="1.3"/>
<line x1="203.95" y1="213.5" x2="213.35" y2="213.5" stroke="#0d0d0d" stroke-width="1.3" stroke-linecap="butt"/>
<line x1="225.5" y1="204.9" x2="225.5" y2="216.3" stroke="#0d0d0d" stroke-width="1.3" stroke-linecap="butt"/>
<line x1="222.37" y1="204.5" x2="228.63" y2="204.5" stroke="#0d0d0d" stroke-width="1.3" stroke-linecap="butt"/>
<line x1="225.5" y1="224.1" x2="225.5" y2="230.5" stroke="#0d0d0d" stroke-width="1.3" stroke-linecap="butt"/>
<line x1="222.37" y1="230.5" x2="228.63" y2="230.5" stroke="#0d0d0d" stroke-width="1.3" stroke-linecap="butt"/>
<rect x="220.75" y="216.3" width="9.5" height="7.8" fill="#0b2cf6" stroke="#0d0d0d" stroke-width="1.3"/>
<line x1="220.75" y1="218.5" x2="230.25" y2="218.5" stroke="#0d0d0d" stroke-width="1.3" stroke-linecap="butt"/>
<line x1="242.5" y1="216.4" x2="242.5" y2="220.5" stroke="#0d0d0d" stroke-width="1.3" stroke-linecap="butt"/>
<line x1="238.99" y1="216.5" x2="245.31" y2="216.5" stroke="#0d0d0d" stroke-width="1.3" stroke-linecap="butt"/>
<line x1="242.5" y1="235.4" x2="242.5" y2="238" stroke="#0d0d0d" stroke-width="1.3" stroke-linecap="butt"/>
<line x1="238.99" y1="238.5" x2="245.31" y2="238.5" stroke="#0d0d0d" stroke-width="1.3" stroke-linecap="butt"/>
<rect x="237.35" y="220.5" width="9.6" height="14.9" fill="#f7000f" stroke="#0d0d0d" stroke-width="1.3"/>
<line x1="237.35" y1="229.5" x2="246.95" y2="229.5" stroke="#0d0d0d" stroke-width="1.3" stroke-linecap="butt"/>
<line x1="258.5" y1="207.5" x2="258.5" y2="210" stroke="#0d0d0d" stroke-width="1.3" stroke-linecap="butt"/>
<line x1="255.34" y1="207.5" x2="262.06" y2="207.5" stroke="#0d0d0d" stroke-width="1.3" stroke-linecap="butt"/>
<line x1="258.5" y1="223.4" x2="258.5" y2="231.3" stroke="#0d0d0d" stroke-width="1.3" stroke-linecap="butt"/>
<line x1="255.34" y1="231.5" x2="262.06" y2="231.5" stroke="#0d0d0d" stroke-width="1.3" stroke-linecap="butt"/>
<rect x="253.55" y="210" width="10.3" height="13.4" fill="#0b2cf6" stroke="#0d0d0d" stroke-width="1.3"/>
<line x1="253.55" y1="217.5" x2="263.85" y2="217.5" stroke="#0d0d0d" stroke-width="1.3" stroke-linecap="butt"/>
<line x1="275.5" y1="221.2" x2="275.5" y2="223.1" stroke="#0d0d0d" stroke-width="1.3" stroke-linecap="butt"/>
<line x1="272.33" y1="221.5" x2="278.77" y2="221.5" stroke="#0d0d0d" stroke-width="1.3" stroke-linecap="butt"/>
<line x1="275.5" y1="228.5" x2="275.5" y2="230.2" stroke="#0d0d0d" stroke-width="1.3" stroke-linecap="butt"/>
<line x1="272.33" y1="230.5" x2="278.77" y2="230.5" stroke="#0d0d0d" stroke-width="1.3" stroke-linecap="butt"/>
<rect x="270.65" y="223.1" width="9.8" height="5.4" fill="#f7000f" stroke="#0d0d0d" stroke-width="1.3"/>
<line x1="270.65" y1="225.5" x2="280.45" y2="225.5" stroke="#0d0d0d" stroke-width="1.3" stroke-linecap="butt"/>
<line x1="292.5" y1="174.1" x2="292.5" y2="187.6" stroke="#0d0d0d" stroke-width="1.3" stroke-linecap="butt"/>
<line x1="289.25" y1="174.5" x2="295.75" y2="174.5" stroke="#0d0d0d" stroke-width="1.3" stroke-linecap="butt"/>
<line x1="292.5" y1="215.3" x2="292.5" y2="228.8" stroke="#0d0d0d" stroke-width="1.3" stroke-linecap="butt"/>
<line x1="289.25" y1="228.5" x2="295.75" y2="228.5" stroke="#0d0d0d" stroke-width="1.3" stroke-linecap="butt"/>
<rect x="287.55" y="187.6" width="9.9" height="27.7" fill="#0b2cf6" stroke="#0d0d0d" stroke-width="1.3"/>
<line x1="287.55" y1="201.5" x2="297.45" y2="201.5" stroke="#0d0d0d" stroke-width="1.3" stroke-linecap="butt"/>
<line x1="309.5" y1="213.1" x2="309.5" y2="220.5" stroke="#0d0d0d" stroke-width="1.3" stroke-linecap="butt"/>
<line x1="305.74" y1="213.5" x2="312.46" y2="213.5" stroke="#0d0d0d" stroke-width="1.3" stroke-linecap="butt"/>
<line x1="309.5" y1="227.3" x2="309.5" y2="229.5" stroke="#0d0d0d" stroke-width="1.3" stroke-linecap="butt"/>
<line x1="305.74" y1="229.5" x2="312.46" y2="229.5" stroke="#0d0d0d" stroke-width="1.3" stroke-linecap="butt"/>
<rect x="303.95" y="220.5" width="10.3" height="6.8" fill="#f7000f" stroke="#0d0d0d" stroke-width="1.3"/>
<line x1="303.95" y1="223.5" x2="314.25" y2="223.5" stroke="#0d0d0d" stroke-width="1.3" stroke-linecap="butt"/>
<path d="M209.5 162.3V158.5H241.5V162.3" fill="none" stroke="#0d0d0d" stroke-width="1.2"/>
<ellipse cx="224.65" cy="154.4" rx="1.1" ry="0.95" fill="#0d0d0d"/>
<ellipse cx="227.95" cy="154.4" rx="1.1" ry="0.95" fill="#0d0d0d"/>
<path d="M209.5 171V166.5H228.5V171" fill="none" stroke="#0d0d0d" stroke-width="1.2"/>
<text x="220" y="164.7" font-size="7.2" text-anchor="middle">ns</text>
<path d="M224.5 183.3V179.5H243.5V183.3" fill="none" stroke="#0d0d0d" stroke-width="1.2"/>
<text x="234.6" y="177.1" font-size="7.2" text-anchor="middle">ns</text>
<path d="M258.5 167.4V163.5H276.5V167.4" fill="none" stroke="#0d0d0d" stroke-width="1.2"/>
<ellipse cx="267.7" cy="160.2" rx="1.1" ry="0.95" fill="#0d0d0d"/>
<path d="M292.5 167.4V163.5H310.5V167.4" fill="none" stroke="#0d0d0d" stroke-width="1.2"/>
<ellipse cx="301.8" cy="160.2" rx="1.1" ry="0.95" fill="#0d0d0d"/>
<line x1="221.3" y1="252.8" x2="246.8" y2="252.8" stroke="#0d0d0d" stroke-width="1.75" stroke-linecap="butt"/>
<text x="234.3" y="261.6" font-size="6.3" text-anchor="middle">D0</text>
<line x1="254.4" y1="252.8" x2="280.3" y2="252.8" stroke="#0d0d0d" stroke-width="1.75" stroke-linecap="butt"/>
<text x="267.7" y="260.7" font-size="6.3" text-anchor="middle">D4</text>
<line x1="289.1" y1="252.8" x2="314.7" y2="252.8" stroke="#0d0d0d" stroke-width="1.75" stroke-linecap="butt"/>
<text x="301.8" y="261.6" font-size="6.3" text-anchor="middle">D7</text>
<rect x="198.05" y="277.15" width="4" height="4.2" fill="#ffffff" stroke="#0d0d0d" stroke-width="1"/>
<text x="204.7" y="281.6" font-size="7.9" text-anchor="start" textLength="9.4" lengthAdjust="spacingAndGlyphs">HD</text>
<rect x="224.55" y="277.15" width="4" height="4.2" fill="#0b2cf6" stroke="#0d0d0d" stroke-width="1"/>
<text x="232.9" y="281.6" font-size="7.9" text-anchor="start" textLength="65.8" lengthAdjust="spacingAndGlyphs">Moderate Pneumonia</text>
<rect x="307.75" y="277.15" width="4" height="4.2" fill="#f7000f" stroke="#0d0d0d" stroke-width="1"/>
<text x="315.7" y="281.6" font-size="7.9" text-anchor="start" textLength="16.8" lengthAdjust="spacingAndGlyphs">ARDS</text>
<rect x="224.35" y="294.55" width="4.2" height="4" fill="#ffffff" stroke="#0d0d0d" stroke-width="1"/>
<text x="231.5" y="298.8" font-size="7.9" text-anchor="start" textLength="8.6" lengthAdjust="spacingAndGlyphs">HD</text>
<rect x="250.55" y="294.55" width="4.2" height="4" fill="#0b2cf6" stroke="#0d0d0d" stroke-width="1"/>
<text x="259.1" y="298.8" font-size="7.9" text-anchor="start" textLength="65.8" lengthAdjust="spacingAndGlyphs">Moderate Pneumonia</text>
<rect x="334.35" y="294.55" width="4.2" height="4" fill="#f7000f" stroke="#0d0d0d" stroke-width="1"/>
<text x="342.4" y="298.8" font-size="7.9" text-anchor="start" textLength="15.7" lengthAdjust="spacingAndGlyphs">ARDS</text>
<line x1="371.3" y1="164.05" x2="371.3" y2="243.15" stroke="#0d0d0d" stroke-width="1.9" stroke-linecap="butt"/>
<line x1="370.45" y1="242.2" x2="494" y2="242.2" stroke="#0d0d0d" stroke-width="1.9" stroke-linecap="butt"/>
<line x1="368.3" y1="164.5" x2="371.3" y2="164.5" stroke="#0d0d0d" stroke-width="1.1" stroke-linecap="butt"/>
<text x="365.7" y="167.1" font-size="6.2" font-weight="bold" text-anchor="end" textLength="7.64" lengthAdjust="spacingAndGlyphs">1.5</text>
<line x1="368.3" y1="190.5" x2="371.3" y2="190.5" stroke="#0d0d0d" stroke-width="1.1" stroke-linecap="butt"/>
<text x="365.7" y="192.9" font-size="6.2" font-weight="bold" text-anchor="end" textLength="7.64" lengthAdjust="spacingAndGlyphs">1.0</text>
<line x1="368.3" y1="216.5" x2="371.3" y2="216.5" stroke="#0d0d0d" stroke-width="1.1" stroke-linecap="butt"/>
<text x="365.7" y="218.6" font-size="6.2" font-weight="bold" text-anchor="end" textLength="7.64" lengthAdjust="spacingAndGlyphs">0.5</text>
<line x1="368.3" y1="242.5" x2="371.3" y2="242.5" stroke="#0d0d0d" stroke-width="1.1" stroke-linecap="butt"/>
<text x="365.7" y="244.4" font-size="6.2" font-weight="bold" text-anchor="end" textLength="7.64" lengthAdjust="spacingAndGlyphs">0.0</text>
<line x1="382.5" y1="242.2" x2="382.5" y2="245.8" stroke="#0d0d0d" stroke-width="1.1" stroke-linecap="butt"/>
<line x1="399.5" y1="242.2" x2="399.5" y2="245.8" stroke="#0d0d0d" stroke-width="1.1" stroke-linecap="butt"/>
<line x1="416.5" y1="242.2" x2="416.5" y2="245.8" stroke="#0d0d0d" stroke-width="1.1" stroke-linecap="butt"/>
<line x1="432.5" y1="242.2" x2="432.5" y2="245.8" stroke="#0d0d0d" stroke-width="1.1" stroke-linecap="butt"/>
<line x1="449.5" y1="242.2" x2="449.5" y2="245.8" stroke="#0d0d0d" stroke-width="1.1" stroke-linecap="butt"/>
<line x1="466.5" y1="242.2" x2="466.5" y2="245.8" stroke="#0d0d0d" stroke-width="1.1" stroke-linecap="butt"/>
<line x1="482.5" y1="242.2" x2="482.5" y2="245.8" stroke="#0d0d0d" stroke-width="1.1" stroke-linecap="butt"/>
<text transform="translate(351.6,203.7) rotate(-90)" x="0" y="0" font-size="8.1" font-weight="bold" text-anchor="middle" textLength="42.2" lengthAdjust="spacingAndGlyphs">B cells (G/L)</text>
<line x1="382.5" y1="214.8" x2="382.5" y2="224.5" stroke="#0d0d0d" stroke-width="1.3" stroke-linecap="butt"/>
<line x1="379.37" y1="214.5" x2="385.63" y2="214.5" stroke="#0d0d0d" stroke-width="1.3" stroke-linecap="butt"/>
<line x1="382.5" y1="231.2" x2="382.5" y2="234.4" stroke="#0d0d0d" stroke-width="1.3" stroke-linecap="butt"/>
<line x1="379.37" y1="234.5" x2="385.63" y2="234.5" stroke="#0d0d0d" stroke-width="1.3" stroke-linecap="butt"/>
<rect x="377.75" y="224.5" width="9.5" height="6.7" fill="#ffffff" stroke="#0d0d0d" stroke-width="1.3"/>
<line x1="377.75" y1="229.5" x2="387.25" y2="229.5" stroke="#0d0d0d" stroke-width="1.3" stroke-linecap="butt"/>
<line x1="399.5" y1="221.2" x2="399.5" y2="230.5" stroke="#0d0d0d" stroke-width="1.3" stroke-linecap="butt"/>
<line x1="395.99" y1="221.5" x2="402.31" y2="221.5" stroke="#0d0d0d" stroke-width="1.3" stroke-linecap="butt"/>
<line x1="399.5" y1="234.4" x2="399.5" y2="237" stroke="#0d0d0d" stroke-width="1.3" stroke-linecap="butt"/>
<line x1="395.99" y1="237.5" x2="402.31" y2="237.5" stroke="#0d0d0d" stroke-width="1.3" stroke-linecap="butt"/>
<rect x="394.35" y="230.5" width="9.6" height="3.9" fill="#0b2cf6" stroke="#0d0d0d" stroke-width="1.3"/>
<line x1="394.35" y1="232.5" x2="403.95" y2="232.5" stroke="#0d0d0d" stroke-width="1.3" stroke-linecap="butt"/>
<line x1="415.5" y1="202.5" x2="415.5" y2="222.4" stroke="#0d0d0d" stroke-width="1.3" stroke-linecap="butt"/>
<line x1="412.73" y1="202.5" x2="419.17" y2="202.5" stroke="#0d0d0d" stroke-width="1.3" stroke-linecap="butt"/>
<line x1="415.5" y1="236.6" x2="415.5" y2="239.4" stroke="#0d0d0d" stroke-width="1.3" stroke-linecap="butt"/>
<line x1="412.73" y1="239.5" x2="419.17" y2="239.5" stroke="#0d0d0d" stroke-width="1.3" stroke-linecap="butt"/>
<rect x="411.05" y="222.4" width="9.8" height="14.2" fill="#f7000f" stroke="#0d0d0d" stroke-width="1.3"/>
<line x1="411.05" y1="230.5" x2="420.85" y2="230.5" stroke="#0d0d0d" stroke-width="1.3" stroke-linecap="butt"/>
<line x1="432.5" y1="222.1" x2="432.5" y2="225.6" stroke="#0d0d0d" stroke-width="1.3" stroke-linecap="butt"/>
<line x1="429.41" y1="222.5" x2="435.79" y2="222.5" stroke="#0d0d0d" stroke-width="1.3" stroke-linecap="butt"/>
<line x1="432.5" y1="234.4" x2="432.5" y2="239" stroke="#0d0d0d" stroke-width="1.3" stroke-linecap="butt"/>
<line x1="429.41" y1="239.5" x2="435.79" y2="239.5" stroke="#0d0d0d" stroke-width="1.3" stroke-linecap="butt"/>
<rect x="427.75" y="225.6" width="9.7" height="8.8" fill="#0b2cf6" stroke="#0d0d0d" stroke-width="1.3"/>
<line x1="427.75" y1="233.5" x2="437.45" y2="233.5" stroke="#0d0d0d" stroke-width="1.3" stroke-linecap="butt"/>
<line x1="449.5" y1="218.5" x2="449.5" y2="223.5" stroke="#0d0d0d" stroke-width="1.3" stroke-linecap="butt"/>
<line x1="446.35" y1="218.5" x2="452.55" y2="218.5" stroke="#0d0d0d" stroke-width="1.3" stroke-linecap="butt"/>
<line x1="449.5" y1="232.3" x2="449.5" y2="234.7" stroke="#0d0d0d" stroke-width="1.3" stroke-linecap="butt"/>
<line x1="446.35" y1="234.5" x2="452.55" y2="234.5" stroke="#0d0d0d" stroke-width="1.3" stroke-linecap="butt"/>
<rect x="444.75" y="223.5" width="9.4" height="8.8" fill="#f7000f" stroke="#0d0d0d" stroke-width="1.3"/>
<line x1="444.75" y1="230.5" x2="454.15" y2="230.5" stroke="#0d0d0d" stroke-width="1.3" stroke-linecap="butt"/>
<line x1="466.5" y1="181.6" x2="466.5" y2="204.6" stroke="#0d0d0d" stroke-width="1.3" stroke-linecap="butt"/>
<line x1="463.17" y1="181.5" x2="469.43" y2="181.5" stroke="#0d0d0d" stroke-width="1.3" stroke-linecap="butt"/>
<line x1="466.5" y1="232.3" x2="466.5" y2="238" stroke="#0d0d0d" stroke-width="1.3" stroke-linecap="butt"/>
<line x1="463.17" y1="238.5" x2="469.43" y2="238.5" stroke="#0d0d0d" stroke-width="1.3" stroke-linecap="butt"/>
<rect x="461.55" y="204.6" width="9.5" height="27.7" fill="#0b2cf6" stroke="#0d0d0d" stroke-width="1.3"/>
<line x1="461.55" y1="227.5" x2="471.05" y2="227.5" stroke="#0d0d0d" stroke-width="1.3" stroke-linecap="butt"/>
<line x1="482.5" y1="220" x2="482.5" y2="227.3" stroke="#0d0d0d" stroke-width="1.3" stroke-linecap="butt"/>
<line x1="479.57" y1="220.5" x2="486.13" y2="220.5" stroke="#0d0d0d" stroke-width="1.3" stroke-linecap="butt"/>
<line x1="482.5" y1="233" x2="482.5" y2="235.4" stroke="#0d0d0d" stroke-width="1.3" stroke-linecap="butt"/>
<line x1="479.57" y1="235.5" x2="486.13" y2="235.5" stroke="#0d0d0d" stroke-width="1.3" stroke-linecap="butt"/>
<rect x="477.85" y="227.3" width="10" height="5.7" fill="#f7000f" stroke="#0d0d0d" stroke-width="1.3"/>
<line x1="477.85" y1="229.5" x2="487.85" y2="229.5" stroke="#0d0d0d" stroke-width="1.3" stroke-linecap="butt"/>
<path d="M383.5 160.3V155.5H415.5V160.3" fill="none" stroke="#0d0d0d" stroke-width="1.2"/>
<text x="401.1" y="153.6" font-size="7.2" text-anchor="middle">ns</text>
<path d="M383.5 170.6V166.5H401.5V170.6" fill="none" stroke="#0d0d0d" stroke-width="1.2"/>
<text x="393.3" y="164" font-size="7.2" text-anchor="middle">ns</text>
<path d="M399.5 183V178.5H417.5V183" fill="none" stroke="#0d0d0d" stroke-width="1.2"/>
<text x="408.9" y="176.8" font-size="7.2" text-anchor="middle">ns</text>
<path d="M431.5 167.4V162.5H449.5V167.4" fill="none" stroke="#0d0d0d" stroke-width="1.2"/>
<text x="440.3" y="160.7" font-size="7.2" text-anchor="middle">ns</text>
<path d="M466.5 168V163.5H485.5V168" fill="none" stroke="#0d0d0d" stroke-width="1.2"/>
<text x="476.4" y="161.5" font-size="7.2" text-anchor="middle">ns</text>
<line x1="394.6" y1="249.9" x2="420.6" y2="249.9" stroke="#0d0d0d" stroke-width="1.75" stroke-linecap="butt"/>
<text x="407.9" y="258.9" font-size="6.3" text-anchor="middle">D0</text>
<line x1="428" y1="249.9" x2="453.9" y2="249.9" stroke="#0d0d0d" stroke-width="1.75" stroke-linecap="butt"/>
<text x="441" y="258" font-size="6.3" text-anchor="middle">D4</text>
<line x1="462.1" y1="249.9" x2="488.2" y2="249.9" stroke="#0d0d0d" stroke-width="1.75" stroke-linecap="butt"/>
<text x="476" y="258.9" font-size="6.3" text-anchor="middle">D7</text>
<rect x="369.35" y="277.15" width="4.2" height="4.2" fill="#ffffff" stroke="#0d0d0d" stroke-width="1"/>
<text x="376.2" y="281.6" font-size="7.9" text-anchor="start" textLength="9.2" lengthAdjust="spacingAndGlyphs">HD</text>
<rect x="395.45" y="277.15" width="4.5" height="4.2" fill="#0b2cf6" stroke="#0d0d0d" stroke-width="1"/>
<text x="404.2" y="281.6" font-size="7.9" text-anchor="start" textLength="66.1" lengthAdjust="spacingAndGlyphs">Moderate Pneumonia</text>
<rect x="479.25" y="277.15" width="4.4" height="4.2" fill="#f7000f" stroke="#0d0d0d" stroke-width="1"/>
<text x="487.6" y="281.6" font-size="7.9" text-anchor="start" textLength="16.4" lengthAdjust="spacingAndGlyphs">ARDS</text>
<line x1="552.7" y1="164.75" x2="552.7" y2="243.65" stroke="#0d0d0d" stroke-width="1.9" stroke-linecap="butt"/>
<line x1="551.85" y1="242.7" x2="675.7" y2="242.7" stroke="#0d0d0d" stroke-width="1.9" stroke-linecap="butt"/>
<line x1="549.7" y1="165.5" x2="552.7" y2="165.5" stroke="#0d0d0d" stroke-width="1.1" stroke-linecap="butt"/>
<text x="547.1" y="167.8" font-size="6.2" font-weight="bold" text-anchor="end" textLength="7.64" lengthAdjust="spacingAndGlyphs">1.0</text>
<line x1="549.7" y1="181.5" x2="552.7" y2="181.5" stroke="#0d0d0d" stroke-width="1.1" stroke-linecap="butt"/>
<text x="547.1" y="183.4" font-size="6.2" font-weight="bold" text-anchor="end" textLength="7.64" lengthAdjust="spacingAndGlyphs">0.8</text>
<line x1="549.7" y1="196.5" x2="552.7" y2="196.5" stroke="#0d0d0d" stroke-width="1.1" stroke-linecap="butt"/>
<text x="547.1" y="198.7" font-size="6.2" font-weight="bold" text-anchor="end" textLength="7.64" lengthAdjust="spacingAndGlyphs">0.6</text>
<line x1="549.7" y1="211.5" x2="552.7" y2="211.5" stroke="#0d0d0d" stroke-width="1.1" stroke-linecap="butt"/>
<text x="547.1" y="213.9" font-size="6.2" font-weight="bold" text-anchor="end" textLength="7.64" lengthAdjust="spacingAndGlyphs">0.4</text>
<line x1="549.7" y1="227.5" x2="552.7" y2="227.5" stroke="#0d0d0d" stroke-width="1.1" stroke-linecap="butt"/>
<text x="547.1" y="229.5" font-size="6.2" font-weight="bold" text-anchor="end" textLength="7.64" lengthAdjust="spacingAndGlyphs">0.2</text>
<line x1="549.7" y1="242.5" x2="552.7" y2="242.5" stroke="#0d0d0d" stroke-width="1.1" stroke-linecap="butt"/>
<text x="547.1" y="244.9" font-size="6.2" font-weight="bold" text-anchor="end" textLength="7.64" lengthAdjust="spacingAndGlyphs">0.0</text>
<line x1="564.5" y1="242.7" x2="564.5" y2="246.3" stroke="#0d0d0d" stroke-width="1.1" stroke-linecap="butt"/>
<line x1="580.5" y1="242.7" x2="580.5" y2="246.3" stroke="#0d0d0d" stroke-width="1.1" stroke-linecap="butt"/>
<line x1="597.5" y1="242.7" x2="597.5" y2="246.3" stroke="#0d0d0d" stroke-width="1.1" stroke-linecap="butt"/>
<line x1="614.5" y1="242.7" x2="614.5" y2="246.3" stroke="#0d0d0d" stroke-width="1.1" stroke-linecap="butt"/>
<line x1="631.5" y1="242.7" x2="631.5" y2="246.3" stroke="#0d0d0d" stroke-width="1.1" stroke-linecap="butt"/>
<line x1="648.5" y1="242.7" x2="648.5" y2="246.3" stroke="#0d0d0d" stroke-width="1.1" stroke-linecap="butt"/>
<line x1="665.5" y1="242.7" x2="665.5" y2="246.3" stroke="#0d0d0d" stroke-width="1.1" stroke-linecap="butt"/>
<text transform="translate(531.1,204.3) rotate(-90)" x="0" y="0" font-size="8.1" font-weight="bold" text-anchor="middle" textLength="47.5" lengthAdjust="spacingAndGlyphs">NK cells (G/L)</text>
<line x1="563.5" y1="200.4" x2="563.5" y2="219.2" stroke="#0d0d0d" stroke-width="1.3" stroke-linecap="butt"/>
<line x1="560.54" y1="200.5" x2="567.26" y2="200.5" stroke="#0d0d0d" stroke-width="1.3" stroke-linecap="butt"/>
<line x1="563.5" y1="226.6" x2="563.5" y2="234.9" stroke="#0d0d0d" stroke-width="1.3" stroke-linecap="butt"/>
<line x1="560.54" y1="234.5" x2="567.26" y2="234.5" stroke="#0d0d0d" stroke-width="1.3" stroke-linecap="butt"/>
<rect x="558.75" y="219.2" width="10.3" height="7.4" fill="#ffffff" stroke="#0d0d0d" stroke-width="1.3"/>
<line x1="558.75" y1="222.5" x2="569.05" y2="222.5" stroke="#0d0d0d" stroke-width="1.3" stroke-linecap="butt"/>
<line x1="580.5" y1="184.8" x2="580.5" y2="222.7" stroke="#0d0d0d" stroke-width="1.3" stroke-linecap="butt"/>
<line x1="577.17" y1="184.5" x2="583.73" y2="184.5" stroke="#0d0d0d" stroke-width="1.3" stroke-linecap="butt"/>
<line x1="580.5" y1="234.4" x2="580.5" y2="239.4" stroke="#0d0d0d" stroke-width="1.3" stroke-linecap="butt"/>
<line x1="577.17" y1="239.5" x2="583.73" y2="239.5" stroke="#0d0d0d" stroke-width="1.3" stroke-linecap="butt"/>
<rect x="575.45" y="222.7" width="10" height="11.7" fill="#0b2cf6" stroke="#0d0d0d" stroke-width="1.3"/>
<line x1="575.45" y1="231.5" x2="585.45" y2="231.5" stroke="#0d0d0d" stroke-width="1.3" stroke-linecap="butt"/>
<line x1="597.5" y1="199.4" x2="597.5" y2="216.3" stroke="#0d0d0d" stroke-width="1.3" stroke-linecap="butt"/>
<line x1="594.41" y1="199.5" x2="600.79" y2="199.5" stroke="#0d0d0d" stroke-width="1.3" stroke-linecap="butt"/>
<line x1="597.5" y1="233.7" x2="597.5" y2="237.7" stroke="#0d0d0d" stroke-width="1.3" stroke-linecap="butt"/>
<line x1="594.41" y1="237.5" x2="600.79" y2="237.5" stroke="#0d0d0d" stroke-width="1.3" stroke-linecap="butt"/>
<rect x="592.75" y="216.3" width="9.7" height="17.4" fill="#f7000f" stroke="#0d0d0d" stroke-width="1.3"/>
<line x1="592.75" y1="230.5" x2="602.45" y2="230.5" stroke="#0d0d0d" stroke-width="1.3" stroke-linecap="butt"/>
<line x1="614.5" y1="217.4" x2="614.5" y2="224.1" stroke="#0d0d0d" stroke-width="1.3" stroke-linecap="butt"/>
<line x1="611.25" y1="217.5" x2="617.75" y2="217.5" stroke="#0d0d0d" stroke-width="1.3" stroke-linecap="butt"/>
<line x1="614.5" y1="237.6" x2="614.5" y2="238.7" stroke="#0d0d0d" stroke-width="1.3" stroke-linecap="butt"/>
<line x1="611.25" y1="238.5" x2="617.75" y2="238.5" stroke="#0d0d0d" stroke-width="1.3" stroke-linecap="butt"/>
<rect x="609.55" y="224.1" width="9.9" height="13.5" fill="#0b2cf6" stroke="#0d0d0d" stroke-width="1.3"/>
<line x1="609.55" y1="234.5" x2="619.45" y2="234.5" stroke="#0d0d0d" stroke-width="1.3" stroke-linecap="butt"/>
<line x1="631.5" y1="223.4" x2="631.5" y2="227.1" stroke="#0d0d0d" stroke-width="1.3" stroke-linecap="butt"/>
<line x1="627.64" y1="223.5" x2="634.36" y2="223.5" stroke="#0d0d0d" stroke-width="1.3" stroke-linecap="butt"/>
<line x1="631.5" y1="236.3" x2="631.5" y2="239.7" stroke="#0d0d0d" stroke-width="1.3" stroke-linecap="butt"/>
<line x1="627.64" y1="239.5" x2="634.36" y2="239.5" stroke="#0d0d0d" stroke-width="1.3" stroke-linecap="butt"/>
<rect x="625.85" y="227.1" width="10.3" height="9.2" fill="#f7000f" stroke="#0d0d0d" stroke-width="1.3"/>
<line x1="625.85" y1="232.5" x2="636.15" y2="232.5" stroke="#0d0d0d" stroke-width="1.3" stroke-linecap="butt"/>
<line x1="647.5" y1="215.7" x2="647.5" y2="218.5" stroke="#0d0d0d" stroke-width="1.3" stroke-linecap="butt"/>
<line x1="644.65" y1="215.5" x2="651.15" y2="215.5" stroke="#0d0d0d" stroke-width="1.3" stroke-linecap="butt"/>
<line x1="647.5" y1="231.2" x2="647.5" y2="238.3" stroke="#0d0d0d" stroke-width="1.3" stroke-linecap="butt"/>
<line x1="644.65" y1="238.5" x2="651.15" y2="238.5" stroke="#0d0d0d" stroke-width="1.3" stroke-linecap="butt"/>
<rect x="642.95" y="218.5" width="9.9" height="12.7" fill="#0b2cf6" stroke="#0d0d0d" stroke-width="1.3"/>
<line x1="642.95" y1="222.5" x2="652.85" y2="222.5" stroke="#0d0d0d" stroke-width="1.3" stroke-linecap="butt"/>
<line x1="664.5" y1="204.3" x2="664.5" y2="215.6" stroke="#0d0d0d" stroke-width="1.3" stroke-linecap="butt"/>
<line x1="661.37" y1="204.5" x2="667.93" y2="204.5" stroke="#0d0d0d" stroke-width="1.3" stroke-linecap="butt"/>
<line x1="664.5" y1="231.3" x2="664.5" y2="236.3" stroke="#0d0d0d" stroke-width="1.3" stroke-linecap="butt"/>
<line x1="661.37" y1="236.5" x2="667.93" y2="236.5" stroke="#0d0d0d" stroke-width="1.3" stroke-linecap="butt"/>
<rect x="659.65" y="215.6" width="10" height="15.7" fill="#f7000f" stroke="#0d0d0d" stroke-width="1.3"/>
<line x1="659.65" y1="225.5" x2="669.65" y2="225.5" stroke="#0d0d0d" stroke-width="1.3" stroke-linecap="butt"/>
<path d="M564.5 159.2V154.5H597.5V159.2" fill="none" stroke="#0d0d0d" stroke-width="1.2"/>
<text x="580.8" y="152.7" font-size="7.2" text-anchor="middle">ns</text>
<path d="M560.5 172.3V167.5H578.5V172.3" fill="none" stroke="#0d0d0d" stroke-width="1.2"/>
<text x="570.4" y="165.7" font-size="7.2" text-anchor="middle">ns</text>
<path d="M580.5 181.2V177.5H598.5V181.2" fill="none" stroke="#0d0d0d" stroke-width="1.2"/>
<text x="590" y="175.4" font-size="7.2" text-anchor="middle">ns</text>
<path d="M613.5 168.4V163.5H632.5V168.4" fill="none" stroke="#0d0d0d" stroke-width="1.2"/>
<text x="623.4" y="161.9" font-size="7.2" text-anchor="middle">ns</text>
<path d="M648.5 168.4V163.5H666.5V168.4" fill="none" stroke="#0d0d0d" stroke-width="1.2"/>
<text x="657.9" y="161.9" font-size="7.2" text-anchor="middle">ns</text>
<line x1="576.3" y1="251.3" x2="602.2" y2="251.3" stroke="#0d0d0d" stroke-width="1.75" stroke-linecap="butt"/>
<text x="589.6" y="260.5" font-size="6.3" text-anchor="middle">D0</text>
<line x1="609.8" y1="251.3" x2="635.5" y2="251.3" stroke="#0d0d0d" stroke-width="1.75" stroke-linecap="butt"/>
<text x="623.1" y="259.6" font-size="6.3" text-anchor="middle">D4</text>
<line x1="644.1" y1="251.3" x2="670.1" y2="251.3" stroke="#0d0d0d" stroke-width="1.75" stroke-linecap="butt"/>
<text x="657.4" y="260.5" font-size="6.3" text-anchor="middle">D7</text>
<rect x="550.75" y="280.85" width="3.8" height="4.2" fill="#ffffff" stroke="#0d0d0d" stroke-width="1"/>
<text x="557.7" y="285.3" font-size="7.9" text-anchor="start" textLength="9.2" lengthAdjust="spacingAndGlyphs">HD</text>
<rect x="576.95" y="280.85" width="4.2" height="4.2" fill="#0b2cf6" stroke="#0d0d0d" stroke-width="1"/>
<text x="585.5" y="285.3" font-size="7.9" text-anchor="start" textLength="66.2" lengthAdjust="spacingAndGlyphs">Moderate Pneumonia</text>
<rect x="660.75" y="280.85" width="4.2" height="4.2" fill="#f7000f" stroke="#0d0d0d" stroke-width="1"/>
<text x="669" y="285.3" font-size="7.9" text-anchor="start" textLength="16.3" lengthAdjust="spacingAndGlyphs">ARDS</text>
<line x1="27.5" y1="332.45" x2="27.5" y2="411.55" stroke="#0d0d0d" stroke-width="1.9" stroke-linecap="butt"/>
<line x1="26.65" y1="410.6" x2="150.9" y2="410.6" stroke="#0d0d0d" stroke-width="1.9" stroke-linecap="butt"/>
<line x1="24.5" y1="333.5" x2="27.5" y2="333.5" stroke="#0d0d0d" stroke-width="1.1" stroke-linecap="butt"/>
<text x="21.9" y="335.5" font-size="6.2" font-weight="bold" text-anchor="end" textLength="7.64" lengthAdjust="spacingAndGlyphs">0.6</text>
<line x1="24.5" y1="359.5" x2="27.5" y2="359.5" stroke="#0d0d0d" stroke-width="1.1" stroke-linecap="butt"/>
<text x="21.9" y="361.5" font-size="6.2" font-weight="bold" text-anchor="end" textLength="7.64" lengthAdjust="spacingAndGlyphs">0.4</text>
<line x1="24.5" y1="385.5" x2="27.5" y2="385.5" stroke="#0d0d0d" stroke-width="1.1" stroke-linecap="butt"/>
<text x="21.9" y="387.2" font-size="6.2" font-weight="bold" text-anchor="end" textLength="7.64" lengthAdjust="spacingAndGlyphs">0.2</text>
<line x1="24.5" y1="410.5" x2="27.5" y2="410.5" stroke="#0d0d0d" stroke-width="1.1" stroke-linecap="butt"/>
<text x="21.9" y="412.8" font-size="6.2" font-weight="bold" text-anchor="end" textLength="7.64" lengthAdjust="spacingAndGlyphs">0.0</text>
<line x1="39.5" y1="410.6" x2="39.5" y2="414.2" stroke="#0d0d0d" stroke-width="1.1" stroke-linecap="butt"/>
<line x1="56.5" y1="410.6" x2="56.5" y2="414.2" stroke="#0d0d0d" stroke-width="1.1" stroke-linecap="butt"/>
<line x1="72.5" y1="410.6" x2="72.5" y2="414.2" stroke="#0d0d0d" stroke-width="1.1" stroke-linecap="butt"/>
<line x1="89.5" y1="410.6" x2="89.5" y2="414.2" stroke="#0d0d0d" stroke-width="1.1" stroke-linecap="butt"/>
<line x1="106.5" y1="410.6" x2="106.5" y2="414.2" stroke="#0d0d0d" stroke-width="1.1" stroke-linecap="butt"/>
<line x1="122.5" y1="410.6" x2="122.5" y2="414.2" stroke="#0d0d0d" stroke-width="1.1" stroke-linecap="butt"/>
<line x1="139.5" y1="410.6" x2="139.5" y2="414.2" stroke="#0d0d0d" stroke-width="1.1" stroke-linecap="butt"/>
<text transform="translate(6.1,372) rotate(-90)" x="0" y="0" font-size="8.1" font-weight="bold" text-anchor="middle" textLength="71.1" lengthAdjust="spacingAndGlyphs">CD4 EM T cells (G/L)</text>
<line x1="39.5" y1="360.5" x2="39.5" y2="367.5" stroke="#0d0d0d" stroke-width="1.3" stroke-linecap="butt"/>
<line x1="36.21" y1="360.5" x2="42.59" y2="360.5" stroke="#0d0d0d" stroke-width="1.3" stroke-linecap="butt"/>
<line x1="39.5" y1="380.6" x2="39.5" y2="387.1" stroke="#0d0d0d" stroke-width="1.3" stroke-linecap="butt"/>
<line x1="36.21" y1="387.5" x2="42.59" y2="387.5" stroke="#0d0d0d" stroke-width="1.3" stroke-linecap="butt"/>
<rect x="34.55" y="367.5" width="9.7" height="13.1" fill="#ffffff" stroke="#0d0d0d" stroke-width="1.3"/>
<line x1="34.55" y1="375.5" x2="44.25" y2="375.5" stroke="#0d0d0d" stroke-width="1.3" stroke-linecap="butt"/>
<line x1="55.5" y1="351.6" x2="55.5" y2="383.8" stroke="#0d0d0d" stroke-width="1.3" stroke-linecap="butt"/>
<line x1="52.61" y1="351.5" x2="58.99" y2="351.5" stroke="#0d0d0d" stroke-width="1.3" stroke-linecap="butt"/>
<line x1="55.5" y1="398" x2="55.5" y2="406.9" stroke="#0d0d0d" stroke-width="1.3" stroke-linecap="butt"/>
<line x1="52.61" y1="406.5" x2="58.99" y2="406.5" stroke="#0d0d0d" stroke-width="1.3" stroke-linecap="butt"/>
<rect x="50.95" y="383.8" width="9.7" height="14.2" fill="#0b2cf6" stroke="#0d0d0d" stroke-width="1.3"/>
<line x1="50.95" y1="394.5" x2="60.65" y2="394.5" stroke="#0d0d0d" stroke-width="1.3" stroke-linecap="butt"/>
<line x1="72.5" y1="356.6" x2="72.5" y2="379.4" stroke="#0d0d0d" stroke-width="1.3" stroke-linecap="butt"/>
<line x1="69.23" y1="356.5" x2="75.67" y2="356.5" stroke="#0d0d0d" stroke-width="1.3" stroke-linecap="butt"/>
<line x1="72.5" y1="402.4" x2="72.5" y2="410.6" stroke="#0d0d0d" stroke-width="1.3" stroke-linecap="butt"/>
<line x1="69.23" y1="410.5" x2="75.67" y2="410.5" stroke="#0d0d0d" stroke-width="1.3" stroke-linecap="butt"/>
<rect x="67.55" y="379.4" width="9.8" height="23" fill="#f7000f" stroke="#0d0d0d" stroke-width="1.3"/>
<line x1="67.55" y1="390.5" x2="77.35" y2="390.5" stroke="#0d0d0d" stroke-width="1.3" stroke-linecap="butt"/>
<line x1="89.5" y1="365.7" x2="89.5" y2="367.5" stroke="#0d0d0d" stroke-width="1.3" stroke-linecap="butt"/>
<line x1="86.21" y1="365.5" x2="92.59" y2="365.5" stroke="#0d0d0d" stroke-width="1.3" stroke-linecap="butt"/>
<line x1="89.5" y1="397.5" x2="89.5" y2="404.2" stroke="#0d0d0d" stroke-width="1.3" stroke-linecap="butt"/>
<line x1="86.21" y1="404.5" x2="92.59" y2="404.5" stroke="#0d0d0d" stroke-width="1.3" stroke-linecap="butt"/>
<rect x="84.55" y="367.5" width="9.7" height="30" fill="#0b2cf6" stroke="#0d0d0d" stroke-width="1.3"/>
<line x1="84.55" y1="394.5" x2="94.25" y2="394.5" stroke="#0d0d0d" stroke-width="1.3" stroke-linecap="butt"/>
<line x1="106.5" y1="378.3" x2="106.5" y2="388.8" stroke="#0d0d0d" stroke-width="1.3" stroke-linecap="butt"/>
<line x1="103.01" y1="378.5" x2="109.39" y2="378.5" stroke="#0d0d0d" stroke-width="1.3" stroke-linecap="butt"/>
<line x1="106.5" y1="399.2" x2="106.5" y2="410.6" stroke="#0d0d0d" stroke-width="1.3" stroke-linecap="butt"/>
<line x1="103.01" y1="410.5" x2="109.39" y2="410.5" stroke="#0d0d0d" stroke-width="1.3" stroke-linecap="butt"/>
<rect x="101.35" y="388.8" width="9.7" height="10.4" fill="#f7000f" stroke="#0d0d0d" stroke-width="1.3"/>
<line x1="101.35" y1="392.5" x2="111.05" y2="392.5" stroke="#0d0d0d" stroke-width="1.3" stroke-linecap="butt"/>
<line x1="122.5" y1="346.7" x2="122.5" y2="350.7" stroke="#0d0d0d" stroke-width="1.3" stroke-linecap="butt"/>
<line x1="119.71" y1="346.5" x2="126.09" y2="346.5" stroke="#0d0d0d" stroke-width="1.3" stroke-linecap="butt"/>
<line x1="122.5" y1="378.3" x2="122.5" y2="396.5" stroke="#0d0d0d" stroke-width="1.3" stroke-linecap="butt"/>
<line x1="119.71" y1="396.5" x2="126.09" y2="396.5" stroke="#0d0d0d" stroke-width="1.3" stroke-linecap="butt"/>
<rect x="118.05" y="350.7" width="9.7" height="27.6" fill="#0b2cf6" stroke="#0d0d0d" stroke-width="1.3"/>
<line x1="118.05" y1="357.5" x2="127.75" y2="357.5" stroke="#0d0d0d" stroke-width="1.3" stroke-linecap="butt"/>
<line x1="139.5" y1="359.6" x2="139.5" y2="381.3" stroke="#0d0d0d" stroke-width="1.3" stroke-linecap="butt"/>
<line x1="136.51" y1="359.5" x2="142.89" y2="359.5" stroke="#0d0d0d" stroke-width="1.3" stroke-linecap="butt"/>
<line x1="139.5" y1="401.4" x2="139.5" y2="410.6" stroke="#0d0d0d" stroke-width="1.3" stroke-linecap="butt"/>
<line x1="136.51" y1="410.5" x2="142.89" y2="410.5" stroke="#0d0d0d" stroke-width="1.3" stroke-linecap="butt"/>
<rect x="134.85" y="381.3" width="9.7" height="20.1" fill="#f7000f" stroke="#0d0d0d" stroke-width="1.3"/>
<line x1="134.85" y1="390.5" x2="144.55" y2="390.5" stroke="#0d0d0d" stroke-width="1.3" stroke-linecap="butt"/>
<path d="M39.5 330.3V326.5H72.5V330.3" fill="none" stroke="#0d0d0d" stroke-width="1.2"/>
<ellipse cx="57.3" cy="323.6" rx="1.1" ry="0.95" fill="#0d0d0d"/>
<path d="M39.5 337V332.5H56.5V337" fill="none" stroke="#0d0d0d" stroke-width="1.2"/>
<ellipse cx="49.1" cy="330.3" rx="1.1" ry="0.95" fill="#0d0d0d"/>
<path d="M56.5 349.3V344.5H73.5V349.3" fill="none" stroke="#0d0d0d" stroke-width="1.2"/>
<text x="65.5" y="342.9" font-size="7.2" text-anchor="middle">ns</text>
<path d="M89.5 340.3V335.5H106.5V340.3" fill="none" stroke="#0d0d0d" stroke-width="1.2"/>
<text x="98.5" y="333.8" font-size="7.2" text-anchor="middle">ns</text>
<path d="M122.5 337V332.5H139.5V337" fill="none" stroke="#0d0d0d" stroke-width="1.2"/>
<ellipse cx="131.5" cy="330.3" rx="1.1" ry="0.95" fill="#0d0d0d"/>
<line x1="51.7" y1="419.8" x2="77.8" y2="419.8" stroke="#0d0d0d" stroke-width="1.75" stroke-linecap="butt"/>
<text x="65" y="428.6" font-size="6.3" text-anchor="middle">D0</text>
<line x1="85" y1="419.8" x2="111" y2="419.8" stroke="#0d0d0d" stroke-width="1.75" stroke-linecap="butt"/>
<text x="98.3" y="427.7" font-size="6.3" text-anchor="middle">D4</text>
<line x1="119.5" y1="419.8" x2="145.7" y2="419.8" stroke="#0d0d0d" stroke-width="1.75" stroke-linecap="butt"/>
<text x="133" y="428.6" font-size="6.3" text-anchor="middle">D7</text>
<rect x="25.75" y="444.15" width="3.8" height="4.2" fill="#ffffff" stroke="#0d0d0d" stroke-width="1"/>
<text x="32.7" y="448.6" font-size="7.9" text-anchor="start" textLength="8.8" lengthAdjust="spacingAndGlyphs">HD</text>
<rect x="51.95" y="444.15" width="4" height="4.2" fill="#0b2cf6" stroke="#0d0d0d" stroke-width="1"/>
<text x="60.3" y="448.6" font-size="7.9" text-anchor="start" textLength="66" lengthAdjust="spacingAndGlyphs">Moderate Pneumonia</text>
<rect x="135.35" y="444.15" width="4.4" height="4.2" fill="#f7000f" stroke="#0d0d0d" stroke-width="1"/>
<text x="143.6" y="448.6" font-size="7.9" text-anchor="start" textLength="16.4" lengthAdjust="spacingAndGlyphs">ARDS</text>
<line x1="28.3" y1="474.75" x2="28.3" y2="554.25" stroke="#0d0d0d" stroke-width="1.9" stroke-linecap="butt"/>
<line x1="27.45" y1="553.3" x2="151.5" y2="553.3" stroke="#0d0d0d" stroke-width="1.9" stroke-linecap="butt"/>
<line x1="25.3" y1="475.5" x2="28.3" y2="475.5" stroke="#0d0d0d" stroke-width="1.1" stroke-linecap="butt"/>
<text x="22.7" y="477.8" font-size="6.2" font-weight="bold" text-anchor="end" textLength="7.64" lengthAdjust="spacingAndGlyphs">0.3</text>
<line x1="25.3" y1="502.5" x2="28.3" y2="502.5" stroke="#0d0d0d" stroke-width="1.1" stroke-linecap="butt"/>
<text x="22.7" y="504.2" font-size="6.2" font-weight="bold" text-anchor="end" textLength="7.64" lengthAdjust="spacingAndGlyphs">0.2</text>
<line x1="25.3" y1="527.5" x2="28.3" y2="527.5" stroke="#0d0d0d" stroke-width="1.1" stroke-linecap="butt"/>
<text x="22.7" y="529.9" font-size="6.2" font-weight="bold" text-anchor="end" textLength="7.64" lengthAdjust="spacingAndGlyphs">0.1</text>
<line x1="25.3" y1="553.5" x2="28.3" y2="553.5" stroke="#0d0d0d" stroke-width="1.1" stroke-linecap="butt"/>
<text x="22.7" y="555.5" font-size="6.2" font-weight="bold" text-anchor="end" textLength="7.64" lengthAdjust="spacingAndGlyphs">0.0</text>
<line x1="39.5" y1="553.3" x2="39.5" y2="556.9" stroke="#0d0d0d" stroke-width="1.1" stroke-linecap="butt"/>
<line x1="56.5" y1="553.3" x2="56.5" y2="556.9" stroke="#0d0d0d" stroke-width="1.1" stroke-linecap="butt"/>
<line x1="73.5" y1="553.3" x2="73.5" y2="556.9" stroke="#0d0d0d" stroke-width="1.1" stroke-linecap="butt"/>
<line x1="90.5" y1="553.3" x2="90.5" y2="556.9" stroke="#0d0d0d" stroke-width="1.1" stroke-linecap="butt"/>
<line x1="106.5" y1="553.3" x2="106.5" y2="556.9" stroke="#0d0d0d" stroke-width="1.1" stroke-linecap="butt"/>
<line x1="123.5" y1="553.3" x2="123.5" y2="556.9" stroke="#0d0d0d" stroke-width="1.1" stroke-linecap="butt"/>
<line x1="140.5" y1="553.3" x2="140.5" y2="556.9" stroke="#0d0d0d" stroke-width="1.1" stroke-linecap="butt"/>
<text transform="translate(6.8,514.7) rotate(-90)" x="0" y="0" font-size="8.1" font-weight="bold" text-anchor="middle" textLength="70.7" lengthAdjust="spacingAndGlyphs">CD8 EM T cells (G/L)</text>
<line x1="40.5" y1="486.5" x2="40.5" y2="507.6" stroke="#0d0d0d" stroke-width="1.3" stroke-linecap="butt"/>
<line x1="36.77" y1="486.5" x2="43.33" y2="486.5" stroke="#0d0d0d" stroke-width="1.3" stroke-linecap="butt"/>
<line x1="40.5" y1="536.6" x2="40.5" y2="540.3" stroke="#0d0d0d" stroke-width="1.3" stroke-linecap="butt"/>
<line x1="36.77" y1="540.5" x2="43.33" y2="540.5" stroke="#0d0d0d" stroke-width="1.3" stroke-linecap="butt"/>
<rect x="35.05" y="507.6" width="10" height="29" fill="#ffffff" stroke="#0d0d0d" stroke-width="1.3"/>
<line x1="35.05" y1="514.5" x2="45.05" y2="514.5" stroke="#0d0d0d" stroke-width="1.3" stroke-linecap="butt"/>
<line x1="56.5" y1="527.7" x2="56.5" y2="529.5" stroke="#0d0d0d" stroke-width="1.3" stroke-linecap="butt"/>
<line x1="53.55" y1="527.5" x2="59.75" y2="527.5" stroke="#0d0d0d" stroke-width="1.3" stroke-linecap="butt"/>
<line x1="56.5" y1="547.3" x2="56.5" y2="550.7" stroke="#0d0d0d" stroke-width="1.3" stroke-linecap="butt"/>
<line x1="53.55" y1="550.5" x2="59.75" y2="550.5" stroke="#0d0d0d" stroke-width="1.3" stroke-linecap="butt"/>
<rect x="51.95" y="529.5" width="9.4" height="17.8" fill="#0b2cf6" stroke="#0d0d0d" stroke-width="1.3"/>
<line x1="51.95" y1="537.5" x2="61.35" y2="537.5" stroke="#0d0d0d" stroke-width="1.3" stroke-linecap="butt"/>
<line x1="73.5" y1="504.3" x2="73.5" y2="538.4" stroke="#0d0d0d" stroke-width="1.3" stroke-linecap="butt"/>
<line x1="70.35" y1="504.5" x2="76.55" y2="504.5" stroke="#0d0d0d" stroke-width="1.3" stroke-linecap="butt"/>
<line x1="73.5" y1="552.2" x2="73.5" y2="553.3" stroke="#0d0d0d" stroke-width="1.3" stroke-linecap="butt"/>
<line x1="70.35" y1="553.5" x2="76.55" y2="553.5" stroke="#0d0d0d" stroke-width="1.3" stroke-linecap="butt"/>
<rect x="68.75" y="538.4" width="9.4" height="13.8" fill="#f7000f" stroke="#0d0d0d" stroke-width="1.3"/>
<line x1="68.75" y1="545.5" x2="78.15" y2="545.5" stroke="#0d0d0d" stroke-width="1.3" stroke-linecap="butt"/>
<line x1="90.5" y1="509.4" x2="90.5" y2="515.5" stroke="#0d0d0d" stroke-width="1.3" stroke-linecap="butt"/>
<line x1="87.11" y1="509.5" x2="93.49" y2="509.5" stroke="#0d0d0d" stroke-width="1.3" stroke-linecap="butt"/>
<line x1="90.5" y1="542.3" x2="90.5" y2="550.4" stroke="#0d0d0d" stroke-width="1.3" stroke-linecap="butt"/>
<line x1="87.11" y1="550.5" x2="93.49" y2="550.5" stroke="#0d0d0d" stroke-width="1.3" stroke-linecap="butt"/>
<rect x="85.45" y="515.5" width="9.7" height="26.8" fill="#0b2cf6" stroke="#0d0d0d" stroke-width="1.3"/>
<line x1="85.45" y1="537.5" x2="95.15" y2="537.5" stroke="#0d0d0d" stroke-width="1.3" stroke-linecap="butt"/>
<line x1="107.5" y1="537.7" x2="107.5" y2="541.4" stroke="#0d0d0d" stroke-width="1.3" stroke-linecap="butt"/>
<line x1="103.81" y1="537.5" x2="110.19" y2="537.5" stroke="#0d0d0d" stroke-width="1.3" stroke-linecap="butt"/>
<line x1="107.5" y1="551.2" x2="107.5" y2="553.3" stroke="#0d0d0d" stroke-width="1.3" stroke-linecap="butt"/>
<line x1="103.81" y1="553.5" x2="110.19" y2="553.5" stroke="#0d0d0d" stroke-width="1.3" stroke-linecap="butt"/>
<rect x="102.15" y="541.4" width="9.7" height="9.8" fill="#f7000f" stroke="#0d0d0d" stroke-width="1.3"/>
<line x1="102.15" y1="548.5" x2="111.85" y2="548.5" stroke="#0d0d0d" stroke-width="1.3" stroke-linecap="butt"/>
<line x1="123.5" y1="481.6" x2="123.5" y2="499.7" stroke="#0d0d0d" stroke-width="1.3" stroke-linecap="butt"/>
<line x1="120.61" y1="481.5" x2="126.99" y2="481.5" stroke="#0d0d0d" stroke-width="1.3" stroke-linecap="butt"/>
<line x1="123.5" y1="538.5" x2="123.5" y2="548.5" stroke="#0d0d0d" stroke-width="1.3" stroke-linecap="butt"/>
<line x1="120.61" y1="548.5" x2="126.99" y2="548.5" stroke="#0d0d0d" stroke-width="1.3" stroke-linecap="butt"/>
<rect x="118.95" y="499.7" width="9.7" height="38.8" fill="#0b2cf6" stroke="#0d0d0d" stroke-width="1.3"/>
<line x1="118.95" y1="522.5" x2="128.65" y2="522.5" stroke="#0d0d0d" stroke-width="1.3" stroke-linecap="butt"/>
<line x1="140.5" y1="530.2" x2="140.5" y2="541.4" stroke="#0d0d0d" stroke-width="1.3" stroke-linecap="butt"/>
<line x1="137.23" y1="530.5" x2="143.67" y2="530.5" stroke="#0d0d0d" stroke-width="1.3" stroke-linecap="butt"/>
<line x1="140.5" y1="549.6" x2="140.5" y2="553.3" stroke="#0d0d0d" stroke-width="1.3" stroke-linecap="butt"/>
<line x1="137.23" y1="553.5" x2="143.67" y2="553.5" stroke="#0d0d0d" stroke-width="1.3" stroke-linecap="butt"/>
<rect x="135.55" y="541.4" width="9.8" height="8.2" fill="#f7000f" stroke="#0d0d0d" stroke-width="1.3"/>
<line x1="135.55" y1="545.5" x2="145.35" y2="545.5" stroke="#0d0d0d" stroke-width="1.3" stroke-linecap="butt"/>
<path d="M40.5 473.4V469.5H72.5V473.4" fill="none" stroke="#0d0d0d" stroke-width="1.2"/>
<ellipse cx="55.5" cy="465.3" rx="1.1" ry="0.95" fill="#0d0d0d"/>
<ellipse cx="58.8" cy="465.3" rx="1.1" ry="0.95" fill="#0d0d0d"/>
<ellipse cx="62.1" cy="465.3" rx="1.1" ry="0.95" fill="#0d0d0d"/>
<path d="M40.5 479.6V475.5H57.5V479.6" fill="none" stroke="#0d0d0d" stroke-width="1.2"/>
<ellipse cx="49.4" cy="472.2" rx="1.1" ry="0.95" fill="#0d0d0d"/>
<path d="M56.5 495.3V490.5H74.5V495.3" fill="none" stroke="#0d0d0d" stroke-width="1.2"/>
<text x="65.5" y="488.8" font-size="7.2" text-anchor="middle">ns</text>
<path d="M89.5 482.6V478.5H106.5V482.6" fill="none" stroke="#0d0d0d" stroke-width="1.2"/>
<ellipse cx="99.2" cy="475.3" rx="1.1" ry="0.95" fill="#0d0d0d"/>
<path d="M123.5 478.6V474.5H140.5V478.6" fill="none" stroke="#0d0d0d" stroke-width="1.2"/>
<ellipse cx="132.6" cy="471.4" rx="1.1" ry="0.95" fill="#0d0d0d"/>
<line x1="52.1" y1="563" x2="78.2" y2="563" stroke="#0d0d0d" stroke-width="1.75" stroke-linecap="butt"/>
<text x="65.4" y="572" font-size="6.3" text-anchor="middle">D0</text>
<line x1="85.8" y1="563" x2="111.6" y2="563" stroke="#0d0d0d" stroke-width="1.75" stroke-linecap="butt"/>
<text x="98.7" y="571.1" font-size="6.3" text-anchor="middle">D4</text>
<line x1="120.1" y1="563" x2="145.7" y2="563" stroke="#0d0d0d" stroke-width="1.75" stroke-linecap="butt"/>
<text x="133.4" y="572" font-size="6.3" text-anchor="middle">D7</text>
<rect x="26.35" y="586.15" width="4" height="4.6" fill="#ffffff" stroke="#0d0d0d" stroke-width="1"/>
<text x="33.3" y="591" font-size="7.9" text-anchor="start" textLength="9.2" lengthAdjust="spacingAndGlyphs">HD</text>
<rect x="52.55" y="586.15" width="4" height="4.6" fill="#0b2cf6" stroke="#0d0d0d" stroke-width="1"/>
<text x="60.9" y="591" font-size="7.9" text-anchor="start" textLength="65.8" lengthAdjust="spacingAndGlyphs">Moderate Pneumonia</text>
<rect x="136.35" y="586.15" width="4" height="4.6" fill="#f7000f" stroke="#0d0d0d" stroke-width="1"/>
<text x="144.1" y="591" font-size="7.9" text-anchor="start" textLength="16.4" lengthAdjust="spacingAndGlyphs">ARDS</text>
<line x1="228.1" y1="334.15" x2="228.1" y2="412.55" stroke="#0d0d0d" stroke-width="1.9" stroke-linecap="butt"/>
<line x1="227.25" y1="411.6" x2="355.7" y2="411.6" stroke="#0d0d0d" stroke-width="1.9" stroke-linecap="butt"/>
<line x1="225.1" y1="335.5" x2="228.1" y2="335.5" stroke="#0d0d0d" stroke-width="1.1" stroke-linecap="butt"/>
<text x="220.5" y="337.2" font-size="6.2" font-weight="bold" text-anchor="end" textLength="6.23" lengthAdjust="spacingAndGlyphs">10</text>
<text x="220.7" y="335.2" font-size="3.9" font-weight="bold" text-anchor="start">6</text>
<line x1="225.1" y1="347.5" x2="228.1" y2="347.5" stroke="#0d0d0d" stroke-width="1.1" stroke-linecap="butt"/>
<text x="220.5" y="350.1" font-size="6.2" font-weight="bold" text-anchor="end" textLength="6.23" lengthAdjust="spacingAndGlyphs">10</text>
<text x="220.7" y="348.1" font-size="3.9" font-weight="bold" text-anchor="start">5</text>
<line x1="225.1" y1="360.5" x2="228.1" y2="360.5" stroke="#0d0d0d" stroke-width="1.1" stroke-linecap="butt"/>
<text x="220.5" y="363.1" font-size="6.2" font-weight="bold" text-anchor="end" textLength="6.23" lengthAdjust="spacingAndGlyphs">10</text>
<text x="220.7" y="361.1" font-size="3.9" font-weight="bold" text-anchor="start">4</text>
<line x1="225.1" y1="373.5" x2="228.1" y2="373.5" stroke="#0d0d0d" stroke-width="1.1" stroke-linecap="butt"/>
<text x="220.5" y="375.7" font-size="6.2" font-weight="bold" text-anchor="end" textLength="6.23" lengthAdjust="spacingAndGlyphs">10</text>
<text x="220.7" y="373.7" font-size="3.9" font-weight="bold" text-anchor="start">3</text>
<line x1="225.1" y1="386.5" x2="228.1" y2="386.5" stroke="#0d0d0d" stroke-width="1.1" stroke-linecap="butt"/>
<text x="220.5" y="388.5" font-size="6.2" font-weight="bold" text-anchor="end" textLength="6.23" lengthAdjust="spacingAndGlyphs">10</text>
<text x="220.7" y="386.5" font-size="3.9" font-weight="bold" text-anchor="start">2</text>
<line x1="225.1" y1="399.5" x2="228.1" y2="399.5" stroke="#0d0d0d" stroke-width="1.1" stroke-linecap="butt"/>
<text x="220.5" y="401.4" font-size="6.2" font-weight="bold" text-anchor="end" textLength="6.23" lengthAdjust="spacingAndGlyphs">10</text>
<text x="220.7" y="399.4" font-size="3.9" font-weight="bold" text-anchor="start">1</text>
<line x1="225.1" y1="411.5" x2="228.1" y2="411.5" stroke="#0d0d0d" stroke-width="1.1" stroke-linecap="butt"/>
<text x="220.5" y="413.8" font-size="6.2" font-weight="bold" text-anchor="end" textLength="6.23" lengthAdjust="spacingAndGlyphs">10</text>
<text x="220.7" y="411.8" font-size="3.9" font-weight="bold" text-anchor="start">0</text>
<line x1="239.5" y1="411.6" x2="239.5" y2="415.2" stroke="#0d0d0d" stroke-width="1.1" stroke-linecap="butt"/>
<line x1="257.5" y1="411.6" x2="257.5" y2="415.2" stroke="#0d0d0d" stroke-width="1.1" stroke-linecap="butt"/>
<line x1="274.5" y1="411.6" x2="274.5" y2="415.2" stroke="#0d0d0d" stroke-width="1.1" stroke-linecap="butt"/>
<line x1="291.5" y1="411.6" x2="291.5" y2="415.2" stroke="#0d0d0d" stroke-width="1.1" stroke-linecap="butt"/>
<line x1="309.5" y1="411.6" x2="309.5" y2="415.2" stroke="#0d0d0d" stroke-width="1.1" stroke-linecap="butt"/>
<line x1="326.5" y1="411.6" x2="326.5" y2="415.2" stroke="#0d0d0d" stroke-width="1.1" stroke-linecap="butt"/>
<line x1="344.5" y1="411.6" x2="344.5" y2="415.2" stroke="#0d0d0d" stroke-width="1.1" stroke-linecap="butt"/>
<text transform="translate(206.3,373.9) rotate(-90)" x="0" y="0" font-size="7.1" font-weight="bold" text-anchor="middle" textLength="41.9" lengthAdjust="spacingAndGlyphs">M-MDSC (/mL)</text>
<line x1="239.5" y1="372.3" x2="239.5" y2="379.6" stroke="#0d0d0d" stroke-width="1.3" stroke-linecap="butt"/>
<line x1="236.41" y1="372.5" x2="243.09" y2="372.5" stroke="#0d0d0d" stroke-width="1.3" stroke-linecap="butt"/>
<line x1="239.5" y1="385.2" x2="239.5" y2="390.9" stroke="#0d0d0d" stroke-width="1.3" stroke-linecap="butt"/>
<line x1="236.41" y1="390.5" x2="243.09" y2="390.5" stroke="#0d0d0d" stroke-width="1.3" stroke-linecap="butt"/>
<rect x="234.65" y="379.6" width="10.2" height="5.6" fill="#ffffff" stroke="#0d0d0d" stroke-width="1.3"/>
<line x1="234.65" y1="382.5" x2="244.85" y2="382.5" stroke="#0d0d0d" stroke-width="1.3" stroke-linecap="butt"/>
<line x1="257.5" y1="355.5" x2="257.5" y2="362.6" stroke="#0d0d0d" stroke-width="1.3" stroke-linecap="butt"/>
<line x1="253.97" y1="355.5" x2="260.53" y2="355.5" stroke="#0d0d0d" stroke-width="1.3" stroke-linecap="butt"/>
<line x1="257.5" y1="379.3" x2="257.5" y2="387.4" stroke="#0d0d0d" stroke-width="1.3" stroke-linecap="butt"/>
<line x1="253.97" y1="387.5" x2="260.53" y2="387.5" stroke="#0d0d0d" stroke-width="1.3" stroke-linecap="butt"/>
<rect x="252.25" y="362.6" width="10" height="16.7" fill="#0b2cf6" stroke="#0d0d0d" stroke-width="1.3"/>
<line x1="252.25" y1="371.5" x2="262.25" y2="371.5" stroke="#0d0d0d" stroke-width="1.3" stroke-linecap="butt"/>
<line x1="274.5" y1="336.8" x2="274.5" y2="363.7" stroke="#0d0d0d" stroke-width="1.3" stroke-linecap="butt"/>
<line x1="271.31" y1="336.5" x2="277.69" y2="336.5" stroke="#0d0d0d" stroke-width="1.3" stroke-linecap="butt"/>
<line x1="274.5" y1="379.6" x2="274.5" y2="385.2" stroke="#0d0d0d" stroke-width="1.3" stroke-linecap="butt"/>
<line x1="271.31" y1="385.5" x2="277.69" y2="385.5" stroke="#0d0d0d" stroke-width="1.3" stroke-linecap="butt"/>
<rect x="269.65" y="363.7" width="9.7" height="15.9" fill="#f7000f" stroke="#0d0d0d" stroke-width="1.3"/>
<line x1="269.65" y1="373.5" x2="279.35" y2="373.5" stroke="#0d0d0d" stroke-width="1.3" stroke-linecap="butt"/>
<line x1="291.5" y1="361.7" x2="291.5" y2="363.4" stroke="#0d0d0d" stroke-width="1.3" stroke-linecap="butt"/>
<line x1="288.48" y1="361.5" x2="295.32" y2="361.5" stroke="#0d0d0d" stroke-width="1.3" stroke-linecap="butt"/>
<line x1="291.5" y1="382.9" x2="291.5" y2="396.4" stroke="#0d0d0d" stroke-width="1.3" stroke-linecap="butt"/>
<line x1="288.48" y1="396.5" x2="295.32" y2="396.5" stroke="#0d0d0d" stroke-width="1.3" stroke-linecap="butt"/>
<rect x="286.65" y="363.4" width="10.5" height="19.5" fill="#0b2cf6" stroke="#0d0d0d" stroke-width="1.3"/>
<line x1="286.65" y1="371.5" x2="297.15" y2="371.5" stroke="#0d0d0d" stroke-width="1.3" stroke-linecap="butt"/>
<line x1="309.5" y1="342" x2="309.5" y2="350.5" stroke="#0d0d0d" stroke-width="1.3" stroke-linecap="butt"/>
<line x1="306.25" y1="342.5" x2="312.75" y2="342.5" stroke="#0d0d0d" stroke-width="1.3" stroke-linecap="butt"/>
<line x1="309.5" y1="371.5" x2="309.5" y2="380.5" stroke="#0d0d0d" stroke-width="1.3" stroke-linecap="butt"/>
<line x1="306.25" y1="380.5" x2="312.75" y2="380.5" stroke="#0d0d0d" stroke-width="1.3" stroke-linecap="butt"/>
<rect x="304.55" y="350.5" width="9.9" height="21" fill="#f7000f" stroke="#0d0d0d" stroke-width="1.3"/>
<line x1="304.55" y1="362.5" x2="314.45" y2="362.5" stroke="#0d0d0d" stroke-width="1.3" stroke-linecap="butt"/>
<line x1="326.5" y1="380.5" x2="326.5" y2="381.6" stroke="#0d0d0d" stroke-width="1.3" stroke-linecap="butt"/>
<line x1="323.42" y1="380.5" x2="330.08" y2="380.5" stroke="#0d0d0d" stroke-width="1.3" stroke-linecap="butt"/>
<line x1="326.5" y1="395.1" x2="326.5" y2="401.4" stroke="#0d0d0d" stroke-width="1.3" stroke-linecap="butt"/>
<line x1="323.42" y1="401.5" x2="330.08" y2="401.5" stroke="#0d0d0d" stroke-width="1.3" stroke-linecap="butt"/>
<rect x="321.65" y="381.6" width="10.2" height="13.5" fill="#0b2cf6" stroke="#0d0d0d" stroke-width="1.3"/>
<line x1="321.65" y1="387.5" x2="331.85" y2="387.5" stroke="#0d0d0d" stroke-width="1.3" stroke-linecap="butt"/>
<line x1="343.5" y1="346.3" x2="343.5" y2="352.9" stroke="#0d0d0d" stroke-width="1.3" stroke-linecap="butt"/>
<line x1="340.51" y1="346.5" x2="347.19" y2="346.5" stroke="#0d0d0d" stroke-width="1.3" stroke-linecap="butt"/>
<line x1="343.5" y1="366.5" x2="343.5" y2="379" stroke="#0d0d0d" stroke-width="1.3" stroke-linecap="butt"/>
<line x1="340.51" y1="379.5" x2="347.19" y2="379.5" stroke="#0d0d0d" stroke-width="1.3" stroke-linecap="butt"/>
<rect x="338.75" y="352.9" width="10.2" height="13.6" fill="#f7000f" stroke="#0d0d0d" stroke-width="1.3"/>
<line x1="338.75" y1="361.5" x2="348.95" y2="361.5" stroke="#0d0d0d" stroke-width="1.3" stroke-linecap="butt"/>
<path d="M240.5 324.1V320.5H272.5V324.1" fill="none" stroke="#0d0d0d" stroke-width="1.2"/>
<ellipse cx="257.2" cy="316.4" rx="0.88" ry="0.76" fill="#0d0d0d"/>
<path d="M254.5 334.2V329.5H272.5V334.2" fill="none" stroke="#0d0d0d" stroke-width="1.2"/>
<text x="263.5" y="327.8" font-size="5.8" text-anchor="middle">ns</text>
<path d="M240.5 347.4V343.5H257.5V347.4" fill="none" stroke="#0d0d0d" stroke-width="1.2"/>
<ellipse cx="249.1" cy="339.6" rx="0.88" ry="0.76" fill="#0d0d0d"/>
<path d="M290.5 336.8V332.5H309.5V336.8" fill="none" stroke="#0d0d0d" stroke-width="1.2"/>
<ellipse cx="299.8" cy="328.8" rx="0.88" ry="0.76" fill="#0d0d0d"/>
<path d="M325.5 336.8V332.5H343.5V336.8" fill="none" stroke="#0d0d0d" stroke-width="1.2"/>
<ellipse cx="331.86" cy="328.8" rx="0.88" ry="0.76" fill="#0d0d0d"/>
<ellipse cx="334.5" cy="328.8" rx="0.88" ry="0.76" fill="#0d0d0d"/>
<ellipse cx="337.14" cy="328.8" rx="0.88" ry="0.76" fill="#0d0d0d"/>
<line x1="253.3" y1="422.5" x2="279.3" y2="422.5" stroke="#0d0d0d" stroke-width="1.75" stroke-linecap="butt"/>
<text x="266.6" y="430.7" font-size="5.8" text-anchor="middle">D0</text>
<line x1="287.4" y1="422.5" x2="313.6" y2="422.5" stroke="#0d0d0d" stroke-width="1.75" stroke-linecap="butt"/>
<text x="301.1" y="429.8" font-size="5.8" text-anchor="middle">D4</text>
<line x1="323.2" y1="422.5" x2="348.8" y2="422.5" stroke="#0d0d0d" stroke-width="1.75" stroke-linecap="butt"/>
<text x="335.5" y="430.7" font-size="5.8" text-anchor="middle">D7</text>
<rect x="227.85" y="442.55" width="4.2" height="4.6" fill="#ffffff" stroke="#0d0d0d" stroke-width="1"/>
<text x="235.3" y="447.4" font-size="7.9" text-anchor="start" textLength="8.8" lengthAdjust="spacingAndGlyphs">HD</text>
<rect x="254.35" y="442.55" width="4.2" height="4.6" fill="#0b2cf6" stroke="#0d0d0d" stroke-width="1"/>
<text x="262.9" y="447.4" font-size="7.9" text-anchor="start" textLength="66" lengthAdjust="spacingAndGlyphs">Moderate Pneumonia</text>
<rect x="338.15" y="442.55" width="4.2" height="4.6" fill="#f7000f" stroke="#0d0d0d" stroke-width="1"/>
<text x="346.1" y="447.4" font-size="7.9" text-anchor="start" textLength="16.4" lengthAdjust="spacingAndGlyphs">ARDS</text>
<line x1="224.2" y1="474.35" x2="224.2" y2="553.55" stroke="#0d0d0d" stroke-width="1.9" stroke-linecap="butt"/>
<line x1="223.35" y1="552.6" x2="351.8" y2="552.6" stroke="#0d0d0d" stroke-width="1.9" stroke-linecap="butt"/>
<line x1="221.2" y1="475.5" x2="224.2" y2="475.5" stroke="#0d0d0d" stroke-width="1.1" stroke-linecap="butt"/>
<text x="216.6" y="477.4" font-size="6.2" font-weight="bold" text-anchor="end" textLength="6.23" lengthAdjust="spacingAndGlyphs">10</text>
<text x="216.8" y="475.4" font-size="3.9" font-weight="bold" text-anchor="start">5</text>
<line x1="221.2" y1="494.5" x2="224.2" y2="494.5" stroke="#0d0d0d" stroke-width="1.1" stroke-linecap="butt"/>
<text x="216.6" y="497" font-size="6.2" font-weight="bold" text-anchor="end" textLength="6.23" lengthAdjust="spacingAndGlyphs">10</text>
<text x="216.8" y="495" font-size="3.9" font-weight="bold" text-anchor="start">4</text>
<line x1="221.2" y1="514.5" x2="224.2" y2="514.5" stroke="#0d0d0d" stroke-width="1.1" stroke-linecap="butt"/>
<text x="216.6" y="516.2" font-size="6.2" font-weight="bold" text-anchor="end" textLength="6.23" lengthAdjust="spacingAndGlyphs">10</text>
<text x="216.8" y="514.2" font-size="3.9" font-weight="bold" text-anchor="start">3</text>
<line x1="221.2" y1="533.5" x2="224.2" y2="533.5" stroke="#0d0d0d" stroke-width="1.1" stroke-linecap="butt"/>
<text x="216.6" y="535.7" font-size="6.2" font-weight="bold" text-anchor="end" textLength="6.23" lengthAdjust="spacingAndGlyphs">10</text>
<text x="216.8" y="533.7" font-size="3.9" font-weight="bold" text-anchor="start">2</text>
<line x1="221.2" y1="552.5" x2="224.2" y2="552.5" stroke="#0d0d0d" stroke-width="1.1" stroke-linecap="butt"/>
<text x="216.6" y="554.8" font-size="6.2" font-weight="bold" text-anchor="end" textLength="6.23" lengthAdjust="spacingAndGlyphs">10</text>
<text x="216.8" y="552.8" font-size="3.9" font-weight="bold" text-anchor="start">1</text>
<line x1="235.5" y1="552.6" x2="235.5" y2="556.2" stroke="#0d0d0d" stroke-width="1.1" stroke-linecap="butt"/>
<line x1="253.5" y1="552.6" x2="253.5" y2="556.2" stroke="#0d0d0d" stroke-width="1.1" stroke-linecap="butt"/>
<line x1="270.5" y1="552.6" x2="270.5" y2="556.2" stroke="#0d0d0d" stroke-width="1.1" stroke-linecap="butt"/>
<line x1="288.5" y1="552.6" x2="288.5" y2="556.2" stroke="#0d0d0d" stroke-width="1.1" stroke-linecap="butt"/>
<line x1="305.5" y1="552.6" x2="305.5" y2="556.2" stroke="#0d0d0d" stroke-width="1.1" stroke-linecap="butt"/>
<line x1="322.5" y1="552.6" x2="322.5" y2="556.2" stroke="#0d0d0d" stroke-width="1.1" stroke-linecap="butt"/>
<line x1="340.5" y1="552.6" x2="340.5" y2="556.2" stroke="#0d0d0d" stroke-width="1.1" stroke-linecap="butt"/>
<text transform="translate(201.3,514.6) rotate(-90)" x="0" y="0" font-size="7.1" font-weight="bold" text-anchor="middle" textLength="41.2" lengthAdjust="spacingAndGlyphs">G-MDSC (/mL)</text>
<line x1="236.5" y1="513.4" x2="236.5" y2="520.3" stroke="#0d0d0d" stroke-width="1.3" stroke-linecap="butt"/>
<line x1="232.75" y1="513.5" x2="239.25" y2="513.5" stroke="#0d0d0d" stroke-width="1.3" stroke-linecap="butt"/>
<line x1="236.5" y1="539.7" x2="236.5" y2="552.6" stroke="#0d0d0d" stroke-width="1.3" stroke-linecap="butt"/>
<line x1="232.75" y1="552.5" x2="239.25" y2="552.5" stroke="#0d0d0d" stroke-width="1.3" stroke-linecap="butt"/>
<rect x="231.05" y="520.3" width="9.9" height="19.4" fill="#ffffff" stroke="#0d0d0d" stroke-width="1.3"/>
<line x1="231.05" y1="530.5" x2="240.95" y2="530.5" stroke="#0d0d0d" stroke-width="1.3" stroke-linecap="butt"/>
<line x1="253.5" y1="500.5" x2="253.5" y2="504.7" stroke="#0d0d0d" stroke-width="1.3" stroke-linecap="butt"/>
<line x1="250.35" y1="500.5" x2="256.85" y2="500.5" stroke="#0d0d0d" stroke-width="1.3" stroke-linecap="butt"/>
<line x1="253.5" y1="522.7" x2="253.5" y2="526.2" stroke="#0d0d0d" stroke-width="1.3" stroke-linecap="butt"/>
<line x1="250.35" y1="526.5" x2="256.85" y2="526.5" stroke="#0d0d0d" stroke-width="1.3" stroke-linecap="butt"/>
<rect x="248.65" y="504.7" width="9.9" height="18" fill="#0b2cf6" stroke="#0d0d0d" stroke-width="1.3"/>
<line x1="248.65" y1="510.5" x2="258.55" y2="510.5" stroke="#0d0d0d" stroke-width="1.3" stroke-linecap="butt"/>
<line x1="270.5" y1="500.2" x2="270.5" y2="503.2" stroke="#0d0d0d" stroke-width="1.3" stroke-linecap="butt"/>
<line x1="267.51" y1="500.5" x2="274.19" y2="500.5" stroke="#0d0d0d" stroke-width="1.3" stroke-linecap="butt"/>
<line x1="270.5" y1="516.5" x2="270.5" y2="537.4" stroke="#0d0d0d" stroke-width="1.3" stroke-linecap="butt"/>
<line x1="267.51" y1="537.5" x2="274.19" y2="537.5" stroke="#0d0d0d" stroke-width="1.3" stroke-linecap="butt"/>
<rect x="265.75" y="503.2" width="10.2" height="13.3" fill="#f7000f" stroke="#0d0d0d" stroke-width="1.3"/>
<line x1="265.75" y1="513.5" x2="275.95" y2="513.5" stroke="#0d0d0d" stroke-width="1.3" stroke-linecap="butt"/>
<line x1="288.5" y1="496.6" x2="288.5" y2="501.3" stroke="#0d0d0d" stroke-width="1.3" stroke-linecap="butt"/>
<line x1="284.58" y1="496.5" x2="291.42" y2="496.5" stroke="#0d0d0d" stroke-width="1.3" stroke-linecap="butt"/>
<line x1="288.5" y1="507.8" x2="288.5" y2="512.2" stroke="#0d0d0d" stroke-width="1.3" stroke-linecap="butt"/>
<line x1="284.58" y1="512.5" x2="291.42" y2="512.5" stroke="#0d0d0d" stroke-width="1.3" stroke-linecap="butt"/>
<rect x="282.75" y="501.3" width="10.5" height="6.5" fill="#0b2cf6" stroke="#0d0d0d" stroke-width="1.3"/>
<line x1="282.75" y1="504.5" x2="293.25" y2="504.5" stroke="#0d0d0d" stroke-width="1.3" stroke-linecap="butt"/>
<line x1="305.5" y1="487.6" x2="305.5" y2="499.3" stroke="#0d0d0d" stroke-width="1.3" stroke-linecap="butt"/>
<line x1="301.92" y1="487.5" x2="308.58" y2="487.5" stroke="#0d0d0d" stroke-width="1.3" stroke-linecap="butt"/>
<line x1="305.5" y1="504.4" x2="305.5" y2="508.3" stroke="#0d0d0d" stroke-width="1.3" stroke-linecap="butt"/>
<line x1="301.92" y1="508.5" x2="308.58" y2="508.5" stroke="#0d0d0d" stroke-width="1.3" stroke-linecap="butt"/>
<rect x="300.15" y="499.3" width="10.2" height="5.1" fill="#f7000f" stroke="#0d0d0d" stroke-width="1.3"/>
<line x1="300.15" y1="502.5" x2="310.35" y2="502.5" stroke="#0d0d0d" stroke-width="1.3" stroke-linecap="butt"/>
<line x1="322.5" y1="505.2" x2="322.5" y2="508.8" stroke="#0d0d0d" stroke-width="1.3" stroke-linecap="butt"/>
<line x1="319.51" y1="505.5" x2="326.19" y2="505.5" stroke="#0d0d0d" stroke-width="1.3" stroke-linecap="butt"/>
<line x1="322.5" y1="521.8" x2="322.5" y2="523.1" stroke="#0d0d0d" stroke-width="1.3" stroke-linecap="butt"/>
<line x1="319.51" y1="523.5" x2="326.19" y2="523.5" stroke="#0d0d0d" stroke-width="1.3" stroke-linecap="butt"/>
<rect x="317.75" y="508.8" width="10.2" height="13" fill="#0b2cf6" stroke="#0d0d0d" stroke-width="1.3"/>
<line x1="317.75" y1="518.5" x2="327.95" y2="518.5" stroke="#0d0d0d" stroke-width="1.3" stroke-linecap="butt"/>
<line x1="340.5" y1="487.6" x2="340.5" y2="495.1" stroke="#0d0d0d" stroke-width="1.3" stroke-linecap="butt"/>
<line x1="336.68" y1="487.5" x2="343.52" y2="487.5" stroke="#0d0d0d" stroke-width="1.3" stroke-linecap="butt"/>
<line x1="340.5" y1="504.4" x2="340.5" y2="509.8" stroke="#0d0d0d" stroke-width="1.3" stroke-linecap="butt"/>
<line x1="336.68" y1="509.5" x2="343.52" y2="509.5" stroke="#0d0d0d" stroke-width="1.3" stroke-linecap="butt"/>
<rect x="334.85" y="495.1" width="10.5" height="9.3" fill="#f7000f" stroke="#0d0d0d" stroke-width="1.3"/>
<line x1="334.85" y1="495.5" x2="345.35" y2="495.5" stroke="#0d0d0d" stroke-width="1.3" stroke-linecap="butt"/>
<path d="M236.5 465.5V461.5H268.5V465.5" fill="none" stroke="#0d0d0d" stroke-width="1.2"/>
<ellipse cx="251.68" cy="458.2" rx="0.88" ry="0.76" fill="#0d0d0d"/>
<ellipse cx="254.32" cy="458.2" rx="0.88" ry="0.76" fill="#0d0d0d"/>
<path d="M250.5 474.6V470.5H269.5V474.6" fill="none" stroke="#0d0d0d" stroke-width="1.2"/>
<text x="260.3" y="468.2" font-size="5.8" text-anchor="middle">ns</text>
<path d="M236.5 487.8V483.5H254.5V487.8" fill="none" stroke="#0d0d0d" stroke-width="1.2"/>
<ellipse cx="243.88" cy="480.6" rx="0.88" ry="0.76" fill="#0d0d0d"/>
<ellipse cx="246.52" cy="480.6" rx="0.88" ry="0.76" fill="#0d0d0d"/>
<path d="M286.5 477.7V473.5H305.5V477.7" fill="none" stroke="#0d0d0d" stroke-width="1.2"/>
<text x="296.4" y="471.3" font-size="5.8" text-anchor="middle">ns</text>
<path d="M321.5 477.7V473.5H339.5V477.7" fill="none" stroke="#0d0d0d" stroke-width="1.2"/>
<ellipse cx="329.58" cy="469.6" rx="0.88" ry="0.76" fill="#0d0d0d"/>
<ellipse cx="332.22" cy="469.6" rx="0.88" ry="0.76" fill="#0d0d0d"/>
<line x1="249.6" y1="561.4" x2="275.6" y2="561.4" stroke="#0d0d0d" stroke-width="1.75" stroke-linecap="butt"/>
<text x="262.5" y="569.5" font-size="5.8" text-anchor="middle">D0</text>
<line x1="284" y1="561.4" x2="309.9" y2="561.4" stroke="#0d0d0d" stroke-width="1.75" stroke-linecap="butt"/>
<text x="297.3" y="568.6" font-size="5.8" text-anchor="middle">D4</text>
<line x1="319.1" y1="561.4" x2="345.1" y2="561.4" stroke="#0d0d0d" stroke-width="1.75" stroke-linecap="butt"/>
<text x="331" y="569.5" font-size="5.8" text-anchor="middle">D7</text>
<line x1="30.5" y1="628.25" x2="30.5" y2="707.25" stroke="#0d0d0d" stroke-width="1.9" stroke-linecap="butt"/>
<line x1="29.65" y1="706.3" x2="162.9" y2="706.3" stroke="#0d0d0d" stroke-width="1.9" stroke-linecap="butt"/>
<line x1="27.5" y1="629.5" x2="30.5" y2="629.5" stroke="#0d0d0d" stroke-width="1.1" stroke-linecap="butt"/>
<text x="22.9" y="631.3" font-size="6.2" font-weight="bold" text-anchor="end" textLength="6.23" lengthAdjust="spacingAndGlyphs">10</text>
<text x="23.1" y="629.3" font-size="3.9" font-weight="bold" text-anchor="start">7</text>
<line x1="27.5" y1="663.5" x2="30.5" y2="663.5" stroke="#0d0d0d" stroke-width="1.1" stroke-linecap="butt"/>
<text x="22.9" y="665.2" font-size="6.2" font-weight="bold" text-anchor="end" textLength="6.23" lengthAdjust="spacingAndGlyphs">10</text>
<text x="23.1" y="663.2" font-size="3.9" font-weight="bold" text-anchor="start">6</text>
<line x1="27.5" y1="696.5" x2="30.5" y2="696.5" stroke="#0d0d0d" stroke-width="1.1" stroke-linecap="butt"/>
<text x="22.9" y="699" font-size="6.2" font-weight="bold" text-anchor="end" textLength="6.23" lengthAdjust="spacingAndGlyphs">10</text>
<text x="23.1" y="697" font-size="3.9" font-weight="bold" text-anchor="start">5</text>
<line x1="43.5" y1="706.3" x2="43.5" y2="709.9" stroke="#0d0d0d" stroke-width="1.1" stroke-linecap="butt"/>
<line x1="64.5" y1="706.3" x2="64.5" y2="709.9" stroke="#0d0d0d" stroke-width="1.1" stroke-linecap="butt"/>
<line x1="85.5" y1="706.3" x2="85.5" y2="709.9" stroke="#0d0d0d" stroke-width="1.1" stroke-linecap="butt"/>
<line x1="106.5" y1="706.3" x2="106.5" y2="709.9" stroke="#0d0d0d" stroke-width="1.1" stroke-linecap="butt"/>
<line x1="127.5" y1="706.3" x2="127.5" y2="709.9" stroke="#0d0d0d" stroke-width="1.1" stroke-linecap="butt"/>
<line x1="148.5" y1="706.3" x2="148.5" y2="709.9" stroke="#0d0d0d" stroke-width="1.1" stroke-linecap="butt"/>
<text transform="translate(10.3,667.9) rotate(-90)" x="0" y="0" font-size="7.5" font-weight="bold" text-anchor="middle" textLength="66.2" lengthAdjust="spacingAndGlyphs">Lymphocytes (/mL)</text>
<line x1="43.5" y1="666" x2="43.5" y2="672.7" stroke="#0d0d0d" stroke-width="1.3" stroke-linecap="butt"/>
<line x1="39.84" y1="666.5" x2="47.96" y2="666.5" stroke="#0d0d0d" stroke-width="1.3" stroke-linecap="butt"/>
<line x1="43.5" y1="680.1" x2="43.5" y2="697.2" stroke="#0d0d0d" stroke-width="1.3" stroke-linecap="butt"/>
<line x1="39.84" y1="697.5" x2="47.96" y2="697.5" stroke="#0d0d0d" stroke-width="1.3" stroke-linecap="butt"/>
<rect x="37.55" y="672.7" width="12.7" height="7.4" fill="#f7000f" stroke="#0d0d0d" stroke-width="1.3"/>
<line x1="37.55" y1="676.5" x2="50.25" y2="676.5" stroke="#0d0d0d" stroke-width="1.3" stroke-linecap="butt"/>
<line x1="65.5" y1="655.6" x2="65.5" y2="661.5" stroke="#0d0d0d" stroke-width="1.3" stroke-linecap="butt"/>
<line x1="60.94" y1="655.5" x2="69.06" y2="655.5" stroke="#0d0d0d" stroke-width="1.3" stroke-linecap="butt"/>
<line x1="65.5" y1="672" x2="65.5" y2="674.6" stroke="#0d0d0d" stroke-width="1.3" stroke-linecap="butt"/>
<line x1="60.94" y1="674.5" x2="69.06" y2="674.5" stroke="#0d0d0d" stroke-width="1.3" stroke-linecap="butt"/>
<rect x="58.65" y="661.5" width="12.7" height="10.5" fill="#ffffff" stroke="#0d0d0d" stroke-width="1.3"/>
<line x1="58.65" y1="668.5" x2="71.35" y2="668.5" stroke="#0d0d0d" stroke-width="1.3" stroke-linecap="butt"/>
<line x1="85.5" y1="667" x2="85.5" y2="676" stroke="#0d0d0d" stroke-width="1.3" stroke-linecap="butt"/>
<line x1="81.64" y1="667.5" x2="89.76" y2="667.5" stroke="#0d0d0d" stroke-width="1.3" stroke-linecap="butt"/>
<line x1="85.5" y1="679.4" x2="85.5" y2="683.1" stroke="#0d0d0d" stroke-width="1.3" stroke-linecap="butt"/>
<line x1="81.64" y1="683.5" x2="89.76" y2="683.5" stroke="#0d0d0d" stroke-width="1.3" stroke-linecap="butt"/>
<rect x="79.35" y="676" width="12.7" height="3.4" fill="#f7000f" stroke="#0d0d0d" stroke-width="1.3"/>
<line x1="79.35" y1="677.5" x2="92.05" y2="677.5" stroke="#0d0d0d" stroke-width="1.3" stroke-linecap="butt"/>
<line x1="107.5" y1="656.6" x2="107.5" y2="666.3" stroke="#0d0d0d" stroke-width="1.3" stroke-linecap="butt"/>
<line x1="102.94" y1="656.5" x2="111.06" y2="656.5" stroke="#0d0d0d" stroke-width="1.3" stroke-linecap="butt"/>
<line x1="107.5" y1="677.4" x2="107.5" y2="679.1" stroke="#0d0d0d" stroke-width="1.3" stroke-linecap="butt"/>
<line x1="102.94" y1="679.5" x2="111.06" y2="679.5" stroke="#0d0d0d" stroke-width="1.3" stroke-linecap="butt"/>
<rect x="100.65" y="666.3" width="12.7" height="11.1" fill="#ffffff" stroke="#0d0d0d" stroke-width="1.3"/>
<line x1="100.65" y1="672.5" x2="113.35" y2="672.5" stroke="#0d0d0d" stroke-width="1.3" stroke-linecap="butt"/>
<line x1="127.5" y1="677.4" x2="127.5" y2="677.9" stroke="#0d0d0d" stroke-width="1.3" stroke-linecap="butt"/>
<line x1="123.74" y1="677.5" x2="131.86" y2="677.5" stroke="#0d0d0d" stroke-width="1.3" stroke-linecap="butt"/>
<line x1="127.5" y1="682.8" x2="127.5" y2="685" stroke="#0d0d0d" stroke-width="1.3" stroke-linecap="butt"/>
<line x1="123.74" y1="685.5" x2="131.86" y2="685.5" stroke="#0d0d0d" stroke-width="1.3" stroke-linecap="butt"/>
<rect x="121.45" y="677.9" width="12.7" height="4.9" fill="#f7000f" stroke="#0d0d0d" stroke-width="1.3"/>
<line x1="121.45" y1="680.5" x2="134.15" y2="680.5" stroke="#0d0d0d" stroke-width="1.3" stroke-linecap="butt"/>
<line x1="148.5" y1="662.6" x2="148.5" y2="668.5" stroke="#0d0d0d" stroke-width="1.3" stroke-linecap="butt"/>
<line x1="144.78" y1="662.5" x2="152.72" y2="662.5" stroke="#0d0d0d" stroke-width="1.3" stroke-linecap="butt"/>
<line x1="148.5" y1="679.4" x2="148.5" y2="692" stroke="#0d0d0d" stroke-width="1.3" stroke-linecap="butt"/>
<line x1="144.78" y1="692.5" x2="152.72" y2="692.5" stroke="#0d0d0d" stroke-width="1.3" stroke-linecap="butt"/>
<rect x="142.55" y="668.5" width="12.4" height="10.9" fill="#ffffff" stroke="#0d0d0d" stroke-width="1.3"/>
<line x1="142.55" y1="672.5" x2="154.95" y2="672.5" stroke="#0d0d0d" stroke-width="1.3" stroke-linecap="butt"/>
<path d="M44.5 634.3V630.5H64.5V634.3" fill="none" stroke="#0d0d0d" stroke-width="1.2"/>
<ellipse cx="55" cy="627.3" rx="1.1" ry="0.95" fill="#0d0d0d"/>
<path d="M87.5 633.6V629.5H107.5V633.6" fill="none" stroke="#0d0d0d" stroke-width="1.2"/>
<ellipse cx="98.4" cy="626.6" rx="1.1" ry="0.95" fill="#0d0d0d"/>
<path d="M129.5 633V628.5H149.5V633" fill="none" stroke="#0d0d0d" stroke-width="1.2"/>
<ellipse cx="140" cy="626.3" rx="1.1" ry="0.95" fill="#0d0d0d"/>
<line x1="43.6" y1="715.8" x2="66.1" y2="715.8" stroke="#0d0d0d" stroke-width="1.75" stroke-linecap="butt"/>
<text x="55.2" y="724.1" font-size="6.4" text-anchor="middle">D1</text>
<line x1="85.4" y1="715.8" x2="107.7" y2="715.8" stroke="#0d0d0d" stroke-width="1.75" stroke-linecap="butt"/>
<text x="96.7" y="724.1" font-size="6.4" text-anchor="middle">D4</text>
<line x1="126.3" y1="715.8" x2="148.9" y2="715.8" stroke="#0d0d0d" stroke-width="1.75" stroke-linecap="butt"/>
<text x="138.4" y="724.1" font-size="6.4" text-anchor="middle">D7</text>
<rect x="40.85" y="734.65" width="4.6" height="4.8" fill="#ffffff" stroke="#0d0d0d" stroke-width="1"/>
<text x="49.6" y="740.6" font-size="7.9" text-anchor="start" textLength="36.8" lengthAdjust="spacingAndGlyphs">No Infection</text>
<rect x="100.65" y="734.65" width="4.8" height="4.8" fill="#f7000f" stroke="#0d0d0d" stroke-width="1"/>
<text x="109.7" y="740.6" font-size="7.9" text-anchor="start" textLength="63.7" lengthAdjust="spacingAndGlyphs">Nosocomial Infection</text>
<line x1="217.8" y1="628.75" x2="217.8" y2="707.65" stroke="#0d0d0d" stroke-width="1.9" stroke-linecap="butt"/>
<line x1="216.95" y1="706.7" x2="350.1" y2="706.7" stroke="#0d0d0d" stroke-width="1.9" stroke-linecap="butt"/>
<line x1="214.8" y1="629.5" x2="217.8" y2="629.5" stroke="#0d0d0d" stroke-width="1.1" stroke-linecap="butt"/>
<text x="210.2" y="631.8" font-size="6.2" font-weight="bold" text-anchor="end" textLength="6.23" lengthAdjust="spacingAndGlyphs">10</text>
<text x="210.4" y="629.8" font-size="3.9" font-weight="bold" text-anchor="start">8</text>
<line x1="214.8" y1="639.5" x2="217.8" y2="639.5" stroke="#0d0d0d" stroke-width="1.1" stroke-linecap="butt"/>
<text x="210.2" y="641.6" font-size="6.2" font-weight="bold" text-anchor="end" textLength="6.23" lengthAdjust="spacingAndGlyphs">10</text>
<text x="210.4" y="639.6" font-size="3.9" font-weight="bold" text-anchor="start">7</text>
<line x1="214.8" y1="649.5" x2="217.8" y2="649.5" stroke="#0d0d0d" stroke-width="1.1" stroke-linecap="butt"/>
<text x="210.2" y="651.4" font-size="6.2" font-weight="bold" text-anchor="end" textLength="6.23" lengthAdjust="spacingAndGlyphs">10</text>
<text x="210.4" y="649.4" font-size="3.9" font-weight="bold" text-anchor="start">6</text>
<line x1="214.8" y1="658.5" x2="217.8" y2="658.5" stroke="#0d0d0d" stroke-width="1.1" stroke-linecap="butt"/>
<text x="210.2" y="661" font-size="6.2" font-weight="bold" text-anchor="end" textLength="6.23" lengthAdjust="spacingAndGlyphs">10</text>
<text x="210.4" y="659" font-size="3.9" font-weight="bold" text-anchor="start">5</text>
<line x1="214.8" y1="668.5" x2="217.8" y2="668.5" stroke="#0d0d0d" stroke-width="1.1" stroke-linecap="butt"/>
<text x="210.2" y="670.6" font-size="6.2" font-weight="bold" text-anchor="end" textLength="6.23" lengthAdjust="spacingAndGlyphs">10</text>
<text x="210.4" y="668.6" font-size="3.9" font-weight="bold" text-anchor="start">4</text>
<line x1="214.8" y1="678.5" x2="217.8" y2="678.5" stroke="#0d0d0d" stroke-width="1.1" stroke-linecap="butt"/>
<text x="210.2" y="680.3" font-size="6.2" font-weight="bold" text-anchor="end" textLength="6.23" lengthAdjust="spacingAndGlyphs">10</text>
<text x="210.4" y="678.3" font-size="3.9" font-weight="bold" text-anchor="start">3</text>
<line x1="214.8" y1="687.5" x2="217.8" y2="687.5" stroke="#0d0d0d" stroke-width="1.1" stroke-linecap="butt"/>
<text x="210.2" y="689.9" font-size="6.2" font-weight="bold" text-anchor="end" textLength="6.23" lengthAdjust="spacingAndGlyphs">10</text>
<text x="210.4" y="687.9" font-size="3.9" font-weight="bold" text-anchor="start">2</text>
<line x1="214.8" y1="697.5" x2="217.8" y2="697.5" stroke="#0d0d0d" stroke-width="1.1" stroke-linecap="butt"/>
<text x="210.2" y="699.7" font-size="6.2" font-weight="bold" text-anchor="end" textLength="6.23" lengthAdjust="spacingAndGlyphs">10</text>
<text x="210.4" y="697.7" font-size="3.9" font-weight="bold" text-anchor="start">1</text>
<line x1="214.8" y1="706.5" x2="217.8" y2="706.5" stroke="#0d0d0d" stroke-width="1.1" stroke-linecap="butt"/>
<text x="210.2" y="708.9" font-size="6.2" font-weight="bold" text-anchor="end" textLength="6.23" lengthAdjust="spacingAndGlyphs">10</text>
<text x="210.4" y="706.9" font-size="3.9" font-weight="bold" text-anchor="start">0</text>
<line x1="231.5" y1="706.7" x2="231.5" y2="710.3" stroke="#0d0d0d" stroke-width="1.1" stroke-linecap="butt"/>
<line x1="252.5" y1="706.7" x2="252.5" y2="710.3" stroke="#0d0d0d" stroke-width="1.1" stroke-linecap="butt"/>
<line x1="273.5" y1="706.7" x2="273.5" y2="710.3" stroke="#0d0d0d" stroke-width="1.1" stroke-linecap="butt"/>
<line x1="294.5" y1="706.7" x2="294.5" y2="710.3" stroke="#0d0d0d" stroke-width="1.1" stroke-linecap="butt"/>
<line x1="315.5" y1="706.7" x2="315.5" y2="710.3" stroke="#0d0d0d" stroke-width="1.1" stroke-linecap="butt"/>
<line x1="336.5" y1="706.7" x2="336.5" y2="710.3" stroke="#0d0d0d" stroke-width="1.1" stroke-linecap="butt"/>
<text transform="translate(196.3,668.2) rotate(-90)" x="0" y="0" font-size="7.9" font-weight="bold" text-anchor="middle" textLength="49.3" lengthAdjust="spacingAndGlyphs">M-MDSC (/mL)</text>
<line x1="231.5" y1="660.7" x2="231.5" y2="670.3" stroke="#0d0d0d" stroke-width="1.3" stroke-linecap="butt"/>
<line x1="227.92" y1="660.5" x2="235.98" y2="660.5" stroke="#0d0d0d" stroke-width="1.3" stroke-linecap="butt"/>
<line x1="231.5" y1="688.6" x2="231.5" y2="698.8" stroke="#0d0d0d" stroke-width="1.3" stroke-linecap="butt"/>
<line x1="227.92" y1="698.5" x2="235.98" y2="698.5" stroke="#0d0d0d" stroke-width="1.3" stroke-linecap="butt"/>
<rect x="225.65" y="670.3" width="12.6" height="18.3" fill="#ffffff" stroke="#0d0d0d" stroke-width="1.3"/>
<line x1="225.65" y1="675.5" x2="238.25" y2="675.5" stroke="#0d0d0d" stroke-width="1.3" stroke-linecap="butt"/>
<line x1="252.5" y1="657.8" x2="252.5" y2="662.3" stroke="#0d0d0d" stroke-width="1.3" stroke-linecap="butt"/>
<line x1="248.91" y1="657.5" x2="256.69" y2="657.5" stroke="#0d0d0d" stroke-width="1.3" stroke-linecap="butt"/>
<line x1="252.5" y1="679.4" x2="252.5" y2="682" stroke="#0d0d0d" stroke-width="1.3" stroke-linecap="butt"/>
<line x1="248.91" y1="682.5" x2="256.69" y2="682.5" stroke="#0d0d0d" stroke-width="1.3" stroke-linecap="butt"/>
<rect x="246.75" y="662.3" width="12.1" height="17.1" fill="#f7000f" stroke="#0d0d0d" stroke-width="1.3"/>
<line x1="246.75" y1="666.5" x2="258.85" y2="666.5" stroke="#0d0d0d" stroke-width="1.3" stroke-linecap="butt"/>
<line x1="273.5" y1="654.6" x2="273.5" y2="669.9" stroke="#0d0d0d" stroke-width="1.3" stroke-linecap="butt"/>
<line x1="269.48" y1="654.5" x2="277.72" y2="654.5" stroke="#0d0d0d" stroke-width="1.3" stroke-linecap="butt"/>
<line x1="273.5" y1="684.4" x2="273.5" y2="706.7" stroke="#0d0d0d" stroke-width="1.3" stroke-linecap="butt"/>
<line x1="269.48" y1="706.5" x2="277.72" y2="706.5" stroke="#0d0d0d" stroke-width="1.3" stroke-linecap="butt"/>
<rect x="267.15" y="669.9" width="12.9" height="14.5" fill="#ffffff" stroke="#0d0d0d" stroke-width="1.3"/>
<line x1="267.15" y1="673.5" x2="280.05" y2="673.5" stroke="#0d0d0d" stroke-width="1.3" stroke-linecap="butt"/>
<line x1="294.5" y1="657.4" x2="294.5" y2="659" stroke="#0d0d0d" stroke-width="1.3" stroke-linecap="butt"/>
<line x1="290.48" y1="657.5" x2="298.42" y2="657.5" stroke="#0d0d0d" stroke-width="1.3" stroke-linecap="butt"/>
<line x1="294.5" y1="677.8" x2="294.5" y2="680.7" stroke="#0d0d0d" stroke-width="1.3" stroke-linecap="butt"/>
<line x1="290.48" y1="680.5" x2="298.42" y2="680.5" stroke="#0d0d0d" stroke-width="1.3" stroke-linecap="butt"/>
<rect x="288.25" y="659" width="12.4" height="18.8" fill="#f7000f" stroke="#0d0d0d" stroke-width="1.3"/>
<line x1="288.25" y1="667.5" x2="300.65" y2="667.5" stroke="#0d0d0d" stroke-width="1.3" stroke-linecap="butt"/>
<line x1="315.5" y1="650.6" x2="315.5" y2="669.5" stroke="#0d0d0d" stroke-width="1.3" stroke-linecap="butt"/>
<line x1="311.2" y1="650.5" x2="319.2" y2="650.5" stroke="#0d0d0d" stroke-width="1.3" stroke-linecap="butt"/>
<line x1="315.5" y1="683.3" x2="315.5" y2="689" stroke="#0d0d0d" stroke-width="1.3" stroke-linecap="butt"/>
<line x1="311.2" y1="689.5" x2="319.2" y2="689.5" stroke="#0d0d0d" stroke-width="1.3" stroke-linecap="butt"/>
<rect x="308.95" y="669.5" width="12.5" height="13.8" fill="#ffffff" stroke="#0d0d0d" stroke-width="1.3"/>
<line x1="308.95" y1="677.5" x2="321.45" y2="677.5" stroke="#0d0d0d" stroke-width="1.3" stroke-linecap="butt"/>
<line x1="336.5" y1="639.7" x2="336.5" y2="670.6" stroke="#0d0d0d" stroke-width="1.3" stroke-linecap="butt"/>
<line x1="332.13" y1="639.5" x2="339.97" y2="639.5" stroke="#0d0d0d" stroke-width="1.3" stroke-linecap="butt"/>
<line x1="336.5" y1="678.9" x2="336.5" y2="685.3" stroke="#0d0d0d" stroke-width="1.3" stroke-linecap="butt"/>
<line x1="332.13" y1="685.5" x2="339.97" y2="685.5" stroke="#0d0d0d" stroke-width="1.3" stroke-linecap="butt"/>
<rect x="329.95" y="670.6" width="12.2" height="8.3" fill="#f7000f" stroke="#0d0d0d" stroke-width="1.3"/>
<line x1="329.95" y1="675.5" x2="342.15" y2="675.5" stroke="#0d0d0d" stroke-width="1.3" stroke-linecap="butt"/>
<path d="M231.5 630.5V626.5H252.5V630.5" fill="none" stroke="#0d0d0d" stroke-width="1.2"/>
<text x="242.3" y="624.5" font-size="7.2" text-anchor="middle">ns</text>
<path d="M274.5 630.5V626.5H294.5V630.5" fill="none" stroke="#0d0d0d" stroke-width="1.2"/>
<text x="285.4" y="624.5" font-size="7.2" text-anchor="middle">ns</text>
<path d="M316.5 630.5V626.5H337.5V630.5" fill="none" stroke="#0d0d0d" stroke-width="1.2"/>
<ellipse cx="327.7" cy="622.4" rx="1.1" ry="0.95" fill="#0d0d0d"/>
<line x1="231.2" y1="715.8" x2="253.8" y2="715.8" stroke="#0d0d0d" stroke-width="1.75" stroke-linecap="butt"/>
<text x="242.8" y="724.1" font-size="6.4" text-anchor="middle">D1</text>
<line x1="273.1" y1="715.8" x2="295.4" y2="715.8" stroke="#0d0d0d" stroke-width="1.75" stroke-linecap="butt"/>
<text x="284.4" y="724.1" font-size="6.4" text-anchor="middle">D4</text>
<line x1="314" y1="715.8" x2="336.6" y2="715.8" stroke="#0d0d0d" stroke-width="1.75" stroke-linecap="butt"/>
<text x="326.1" y="724.1" font-size="6.4" text-anchor="middle">D7</text>
<rect x="227.05" y="733.95" width="4.5" height="4.7" fill="#ffffff" stroke="#0d0d0d" stroke-width="1"/>
<text x="235.8" y="739" font-size="7.9" text-anchor="start" textLength="37.3" lengthAdjust="spacingAndGlyphs">No Infection</text>
<rect x="287.05" y="733.95" width="4.6" height="4.7" fill="#f7000f" stroke="#0d0d0d" stroke-width="1"/>
<text x="296.1" y="739" font-size="7.9" text-anchor="start" textLength="63.9" lengthAdjust="spacingAndGlyphs">Nosocomial Infection</text>
<line x1="397.6" y1="628.95" x2="397.6" y2="707.55" stroke="#0d0d0d" stroke-width="1.9" stroke-linecap="butt"/>
<line x1="396.75" y1="706.6" x2="530.1" y2="706.6" stroke="#0d0d0d" stroke-width="1.9" stroke-linecap="butt"/>
<line x1="394.6" y1="629.5" x2="397.6" y2="629.5" stroke="#0d0d0d" stroke-width="1.1" stroke-linecap="butt"/>
<text x="390" y="632" font-size="6.2" font-weight="bold" text-anchor="end" textLength="6.23" lengthAdjust="spacingAndGlyphs">10</text>
<text x="390.2" y="630" font-size="3.9" font-weight="bold" text-anchor="start">6</text>
<line x1="394.6" y1="645.5" x2="397.6" y2="645.5" stroke="#0d0d0d" stroke-width="1.1" stroke-linecap="butt"/>
<text x="390" y="647.4" font-size="6.2" font-weight="bold" text-anchor="end" textLength="6.23" lengthAdjust="spacingAndGlyphs">10</text>
<text x="390.2" y="645.4" font-size="3.9" font-weight="bold" text-anchor="start">5</text>
<line x1="394.6" y1="660.5" x2="397.6" y2="660.5" stroke="#0d0d0d" stroke-width="1.1" stroke-linecap="butt"/>
<text x="390" y="662.9" font-size="6.2" font-weight="bold" text-anchor="end" textLength="6.23" lengthAdjust="spacingAndGlyphs">10</text>
<text x="390.2" y="660.9" font-size="3.9" font-weight="bold" text-anchor="start">4</text>
<line x1="394.6" y1="676.5" x2="397.6" y2="676.5" stroke="#0d0d0d" stroke-width="1.1" stroke-linecap="butt"/>
<text x="390" y="678.3" font-size="6.2" font-weight="bold" text-anchor="end" textLength="6.23" lengthAdjust="spacingAndGlyphs">10</text>
<text x="390.2" y="676.3" font-size="3.9" font-weight="bold" text-anchor="start">3</text>
<line x1="394.6" y1="691.5" x2="397.6" y2="691.5" stroke="#0d0d0d" stroke-width="1.1" stroke-linecap="butt"/>
<text x="390" y="693.4" font-size="6.2" font-weight="bold" text-anchor="end" textLength="6.23" lengthAdjust="spacingAndGlyphs">10</text>
<text x="390.2" y="691.4" font-size="3.9" font-weight="bold" text-anchor="start">2</text>
<line x1="394.6" y1="706.5" x2="397.6" y2="706.5" stroke="#0d0d0d" stroke-width="1.1" stroke-linecap="butt"/>
<text x="390" y="708.8" font-size="6.2" font-weight="bold" text-anchor="end" textLength="6.23" lengthAdjust="spacingAndGlyphs">10</text>
<text x="390.2" y="706.8" font-size="3.9" font-weight="bold" text-anchor="start">1</text>
<line x1="411.5" y1="706.6" x2="411.5" y2="710.2" stroke="#0d0d0d" stroke-width="1.1" stroke-linecap="butt"/>
<line x1="432.5" y1="706.6" x2="432.5" y2="710.2" stroke="#0d0d0d" stroke-width="1.1" stroke-linecap="butt"/>
<line x1="453.5" y1="706.6" x2="453.5" y2="710.2" stroke="#0d0d0d" stroke-width="1.1" stroke-linecap="butt"/>
<line x1="474.5" y1="706.6" x2="474.5" y2="710.2" stroke="#0d0d0d" stroke-width="1.1" stroke-linecap="butt"/>
<line x1="495.5" y1="706.6" x2="495.5" y2="710.2" stroke="#0d0d0d" stroke-width="1.1" stroke-linecap="butt"/>
<line x1="516.5" y1="706.6" x2="516.5" y2="710.2" stroke="#0d0d0d" stroke-width="1.1" stroke-linecap="butt"/>
<text transform="translate(377.3,668.2) rotate(-90)" x="0" y="0" font-size="7.9" font-weight="bold" text-anchor="middle" textLength="48.6" lengthAdjust="spacingAndGlyphs">G-MDSC (/mL)</text>
<line x1="412.5" y1="654.8" x2="412.5" y2="662.3" stroke="#0d0d0d" stroke-width="1.3" stroke-linecap="butt"/>
<line x1="408.08" y1="654.5" x2="416.02" y2="654.5" stroke="#0d0d0d" stroke-width="1.3" stroke-linecap="butt"/>
<line x1="412.5" y1="679.4" x2="412.5" y2="683.3" stroke="#0d0d0d" stroke-width="1.3" stroke-linecap="butt"/>
<line x1="408.08" y1="683.5" x2="416.02" y2="683.5" stroke="#0d0d0d" stroke-width="1.3" stroke-linecap="butt"/>
<rect x="405.85" y="662.3" width="12.4" height="17.1" fill="#ffffff" stroke="#0d0d0d" stroke-width="1.3"/>
<line x1="405.85" y1="671.5" x2="418.25" y2="671.5" stroke="#0d0d0d" stroke-width="1.3" stroke-linecap="butt"/>
<line x1="432.5" y1="660.6" x2="432.5" y2="661" stroke="#0d0d0d" stroke-width="1.3" stroke-linecap="butt"/>
<line x1="428.48" y1="660.5" x2="436.72" y2="660.5" stroke="#0d0d0d" stroke-width="1.3" stroke-linecap="butt"/>
<line x1="432.5" y1="663" x2="432.5" y2="671.9" stroke="#0d0d0d" stroke-width="1.3" stroke-linecap="butt"/>
<line x1="428.48" y1="671.5" x2="436.72" y2="671.5" stroke="#0d0d0d" stroke-width="1.3" stroke-linecap="butt"/>
<rect x="426.15" y="661" width="12.9" height="2" fill="#f7000f" stroke="#0d0d0d" stroke-width="1.3"/>
<line x1="426.15" y1="662.5" x2="439.05" y2="662.5" stroke="#0d0d0d" stroke-width="1.3" stroke-linecap="butt"/>
<line x1="453.5" y1="660.3" x2="453.5" y2="664.3" stroke="#0d0d0d" stroke-width="1.3" stroke-linecap="butt"/>
<line x1="449.32" y1="660.5" x2="457.68" y2="660.5" stroke="#0d0d0d" stroke-width="1.3" stroke-linecap="butt"/>
<line x1="453.5" y1="668.6" x2="453.5" y2="674.5" stroke="#0d0d0d" stroke-width="1.3" stroke-linecap="butt"/>
<line x1="449.32" y1="674.5" x2="457.68" y2="674.5" stroke="#0d0d0d" stroke-width="1.3" stroke-linecap="butt"/>
<rect x="446.95" y="664.3" width="13.1" height="4.3" fill="#ffffff" stroke="#0d0d0d" stroke-width="1.3"/>
<line x1="446.95" y1="666.5" x2="460.05" y2="666.5" stroke="#0d0d0d" stroke-width="1.3" stroke-linecap="butt"/>
<line x1="474.5" y1="655.1" x2="474.5" y2="662.3" stroke="#0d0d0d" stroke-width="1.3" stroke-linecap="butt"/>
<line x1="470.18" y1="655.5" x2="478.12" y2="655.5" stroke="#0d0d0d" stroke-width="1.3" stroke-linecap="butt"/>
<line x1="474.5" y1="668.6" x2="474.5" y2="671.5" stroke="#0d0d0d" stroke-width="1.3" stroke-linecap="butt"/>
<line x1="470.18" y1="671.5" x2="478.12" y2="671.5" stroke="#0d0d0d" stroke-width="1.3" stroke-linecap="butt"/>
<rect x="467.95" y="662.3" width="12.4" height="6.3" fill="#f7000f" stroke="#0d0d0d" stroke-width="1.3"/>
<line x1="467.95" y1="667.5" x2="480.35" y2="667.5" stroke="#0d0d0d" stroke-width="1.3" stroke-linecap="butt"/>
<line x1="495.5" y1="665.2" x2="495.5" y2="669.3" stroke="#0d0d0d" stroke-width="1.3" stroke-linecap="butt"/>
<line x1="491.2" y1="665.5" x2="499.2" y2="665.5" stroke="#0d0d0d" stroke-width="1.3" stroke-linecap="butt"/>
<line x1="495.5" y1="679.4" x2="495.5" y2="686" stroke="#0d0d0d" stroke-width="1.3" stroke-linecap="butt"/>
<line x1="491.2" y1="686.5" x2="499.2" y2="686.5" stroke="#0d0d0d" stroke-width="1.3" stroke-linecap="butt"/>
<rect x="488.95" y="669.3" width="12.5" height="10.1" fill="#ffffff" stroke="#0d0d0d" stroke-width="1.3"/>
<line x1="488.95" y1="673.5" x2="501.45" y2="673.5" stroke="#0d0d0d" stroke-width="1.3" stroke-linecap="butt"/>
<line x1="516.5" y1="631.4" x2="516.5" y2="665.6" stroke="#0d0d0d" stroke-width="1.3" stroke-linecap="butt"/>
<line x1="512.13" y1="631.5" x2="519.96" y2="631.5" stroke="#0d0d0d" stroke-width="1.3" stroke-linecap="butt"/>
<line x1="516.5" y1="678.7" x2="516.5" y2="694.5" stroke="#0d0d0d" stroke-width="1.3" stroke-linecap="butt"/>
<line x1="512.13" y1="694.5" x2="519.96" y2="694.5" stroke="#0d0d0d" stroke-width="1.3" stroke-linecap="butt"/>
<rect x="509.95" y="665.6" width="12.2" height="13.1" fill="#f7000f" stroke="#0d0d0d" stroke-width="1.3"/>
<line x1="509.95" y1="676.5" x2="522.15" y2="676.5" stroke="#0d0d0d" stroke-width="1.3" stroke-linecap="butt"/>
<path d="M411.5 628.3V624.5H432.5V628.3" fill="none" stroke="#0d0d0d" stroke-width="1.2"/>
<text x="422.6" y="622.4" font-size="7.2" text-anchor="middle">ns</text>
<path d="M454.5 628.3V624.5H474.5V628.3" fill="none" stroke="#0d0d0d" stroke-width="1.2"/>
<text x="465.9" y="622.4" font-size="7.2" text-anchor="middle">ns</text>
<path d="M496.5 628.3V624.5H516.5V628.3" fill="none" stroke="#0d0d0d" stroke-width="1.2"/>
<text x="507.4" y="622.4" font-size="7.2" text-anchor="middle">ns</text>
<line x1="410.8" y1="715.8" x2="433.4" y2="715.8" stroke="#0d0d0d" stroke-width="1.75" stroke-linecap="butt"/>
<text x="422.8" y="724.1" font-size="6.4" text-anchor="middle">D1</text>
<line x1="453.5" y1="715.8" x2="475.8" y2="715.8" stroke="#0d0d0d" stroke-width="1.75" stroke-linecap="butt"/>
<text x="464.4" y="724.1" font-size="6.4" text-anchor="middle">D4</text>
<line x1="494.4" y1="715.8" x2="517.4" y2="715.8" stroke="#0d0d0d" stroke-width="1.75" stroke-linecap="butt"/>
<text x="506" y="724.1" font-size="6.4" text-anchor="middle">D7</text>
<rect x="408.85" y="734.65" width="4.6" height="4.8" fill="#ffffff" stroke="#0d0d0d" stroke-width="1"/>
<text x="417.4" y="740.6" font-size="7.9" text-anchor="start" textLength="36.8" lengthAdjust="spacingAndGlyphs">No Infection</text>
<rect x="468.35" y="734.65" width="4.7" height="4.8" fill="#f7000f" stroke="#0d0d0d" stroke-width="1"/>
<text x="477.6" y="740.6" font-size="7.9" text-anchor="start" textLength="63.4" lengthAdjust="spacingAndGlyphs">Nosocomial Infection</text>
<line x1="428.9" y1="407.2" x2="545.6" y2="407.2" stroke="#2e2e2e" stroke-width="1.5" stroke-linecap="butt"/>
<line x1="429.5" y1="329" x2="429.5" y2="407.8" stroke="#0d0d0d" stroke-width="1.2" stroke-linecap="butt"/>
<line x1="426.2" y1="329.5" x2="429.4" y2="329.5" stroke="#0d0d0d" stroke-width="1.0" stroke-linecap="butt"/>
<text x="422" y="331.9" font-size="5.6" font-weight="bold" text-anchor="end" textLength="17.8" lengthAdjust="spacingAndGlyphs">2.5×10</text>
<text x="422.1" y="329.8" font-size="3.7" font-weight="bold" text-anchor="start">6</text>
<line x1="426.2" y1="345.5" x2="429.4" y2="345.5" stroke="#0d0d0d" stroke-width="1.0" stroke-linecap="butt"/>
<text x="422" y="347.5" font-size="5.6" font-weight="bold" text-anchor="end" textLength="17.8" lengthAdjust="spacingAndGlyphs">2.0×10</text>
<text x="422.1" y="345.4" font-size="3.7" font-weight="bold" text-anchor="start">6</text>
<line x1="426.2" y1="360.5" x2="429.4" y2="360.5" stroke="#0d0d0d" stroke-width="1.0" stroke-linecap="butt"/>
<text x="422" y="363" font-size="5.6" font-weight="bold" text-anchor="end" textLength="17.8" lengthAdjust="spacingAndGlyphs">1.5×10</text>
<text x="422.1" y="360.9" font-size="3.7" font-weight="bold" text-anchor="start">6</text>
<line x1="426.2" y1="376.5" x2="429.4" y2="376.5" stroke="#0d0d0d" stroke-width="1.0" stroke-linecap="butt"/>
<text x="422" y="378.6" font-size="5.6" font-weight="bold" text-anchor="end" textLength="17.8" lengthAdjust="spacingAndGlyphs">1.0×10</text>
<text x="422.1" y="376.5" font-size="3.7" font-weight="bold" text-anchor="start">6</text>
<line x1="426.2" y1="391.5" x2="429.4" y2="391.5" stroke="#0d0d0d" stroke-width="1.0" stroke-linecap="butt"/>
<text x="422" y="394" font-size="5.6" font-weight="bold" text-anchor="end" textLength="17.8" lengthAdjust="spacingAndGlyphs">5.0×10</text>
<text x="422.1" y="391.9" font-size="3.7" font-weight="bold" text-anchor="start">5</text>
<line x1="426.2" y1="407.5" x2="429.4" y2="407.5" stroke="#0d0d0d" stroke-width="1.0" stroke-linecap="butt"/>
<text x="424.4" y="409.5" font-size="5.6" font-weight="bold" text-anchor="end">0.0</text>
<line x1="429.5" y1="407.2" x2="429.5" y2="410.4" stroke="#0d0d0d" stroke-width="1.0" stroke-linecap="butt"/>
<text x="429.4" y="416.4" font-size="5.6" font-weight="bold" text-anchor="middle">1</text>
<line x1="458.5" y1="407.2" x2="458.5" y2="410.4" stroke="#0d0d0d" stroke-width="1.0" stroke-linecap="butt"/>
<text x="458.3" y="416.4" font-size="5.6" font-weight="bold" text-anchor="middle">2</text>
<line x1="487.5" y1="407.2" x2="487.5" y2="410.4" stroke="#0d0d0d" stroke-width="1.0" stroke-linecap="butt"/>
<text x="487.3" y="416.4" font-size="5.6" font-weight="bold" text-anchor="middle">3</text>
<line x1="516.5" y1="407.2" x2="516.5" y2="410.4" stroke="#0d0d0d" stroke-width="1.0" stroke-linecap="butt"/>
<text x="516.3" y="416.4" font-size="5.6" font-weight="bold" text-anchor="middle">4</text>
<line x1="545.5" y1="407.2" x2="545.5" y2="410.4" stroke="#0d0d0d" stroke-width="1.0" stroke-linecap="butt"/>
<text x="545" y="416.4" font-size="5.6" font-weight="bold" text-anchor="middle">5</text>
<text transform="translate(394.3,369) rotate(-90)" x="0" y="0" font-size="7.7" font-weight="bold" text-anchor="middle" textLength="41.1" lengthAdjust="spacingAndGlyphs">T-cells (/mL)</text>
<text x="464.9" y="427.6" font-size="8" font-weight="bold" text-anchor="start" textLength="45.2" lengthAdjust="spacingAndGlyphs">Log G-MDSC</text>
<text x="440.8" y="323.9" font-size="6.8" font-weight="bold" text-anchor="start" textLength="36.4" lengthAdjust="spacingAndGlyphs">rho = -0,35</text>
<text x="440.8" y="332.5" font-size="7.4" text-anchor="start" textLength="22.1" lengthAdjust="spacingAndGlyphs">p=0,04</text>
<circle cx="442.1" cy="362.9" r="1.55" fill="#0d0d0d"/>
<circle cx="462.4" cy="337.8" r="1.55" fill="#0d0d0d"/>
<circle cx="466.6" cy="361.3" r="1.55" fill="#0d0d0d"/>
<circle cx="488.7" cy="355.2" r="1.55" fill="#0d0d0d"/>
<circle cx="482.4" cy="369.1" r="1.55" fill="#0d0d0d"/>
<circle cx="475.6" cy="373" r="1.55" fill="#0d0d0d"/>
<circle cx="473.5" cy="375.9" r="1.55" fill="#0d0d0d"/>
<circle cx="474.2" cy="378.5" r="1.55" fill="#0d0d0d"/>
<circle cx="453.7" cy="377.9" r="1.55" fill="#0d0d0d"/>
<circle cx="452.3" cy="383.7" r="1.55" fill="#0d0d0d"/>
<circle cx="456.1" cy="390.4" r="1.55" fill="#0d0d0d"/>
<circle cx="452.5" cy="397.2" r="1.55" fill="#0d0d0d"/>
<circle cx="469.2" cy="388.7" r="1.55" fill="#0d0d0d"/>
<circle cx="471.3" cy="384.4" r="1.55" fill="#0d0d0d"/>
<circle cx="473.1" cy="396.8" r="1.55" fill="#0d0d0d"/>
<circle cx="481.1" cy="397.7" r="1.55" fill="#0d0d0d"/>
<circle cx="481.7" cy="399.1" r="1.55" fill="#0d0d0d"/>
<circle cx="482.4" cy="400.3" r="1.55" fill="#0d0d0d"/>
<circle cx="486.5" cy="383.1" r="1.55" fill="#0d0d0d"/>
<circle cx="485.2" cy="393.4" r="1.55" fill="#0d0d0d"/>
<circle cx="489.6" cy="391.1" r="1.55" fill="#0d0d0d"/>
<circle cx="492.3" cy="393.1" r="1.55" fill="#0d0d0d"/>
<circle cx="488.5" cy="395.1" r="1.55" fill="#0d0d0d"/>
<circle cx="488.2" cy="397.5" r="1.55" fill="#0d0d0d"/>
<circle cx="492.8" cy="403" r="1.55" fill="#0d0d0d"/>
<circle cx="499.6" cy="386.5" r="1.55" fill="#0d0d0d"/>
<circle cx="498.7" cy="400.7" r="1.55" fill="#0d0d0d"/>
<circle cx="499.8" cy="399.7" r="1.55" fill="#0d0d0d"/>
<circle cx="504.8" cy="398.1" r="1.55" fill="#0d0d0d"/>
<circle cx="504.2" cy="377.3" r="1.55" fill="#0d0d0d"/>
<circle cx="506.2" cy="380" r="1.55" fill="#0d0d0d"/>
<circle cx="507.7" cy="379" r="1.55" fill="#0d0d0d"/>
<circle cx="508.1" cy="389.3" r="1.55" fill="#0d0d0d"/>
<circle cx="508.3" cy="395.4" r="1.55" fill="#0d0d0d"/>
<line x1="441.8" y1="373.8" x2="508.3" y2="392.2" stroke="#0d0d0d" stroke-width="0.75" stroke-linecap="butt"/>
<line x1="427.3" y1="548.8" x2="546.9" y2="548.8" stroke="#8a8a8a" stroke-width="2.1"/>
<line x1="430.5" y1="471" x2="430.5" y2="549.4" stroke="#0d0d0d" stroke-width="1.2" stroke-linecap="butt"/>
<line x1="427.2" y1="471.5" x2="430.4" y2="471.5" stroke="#0d0d0d" stroke-width="1.0" stroke-linecap="butt"/>
<text x="423" y="473.9" font-size="5.6" font-weight="bold" text-anchor="end" textLength="17.8" lengthAdjust="spacingAndGlyphs">2.5×10</text>
<text x="423.1" y="471.8" font-size="3.7" font-weight="bold" text-anchor="start">6</text>
<line x1="427.2" y1="487.5" x2="430.4" y2="487.5" stroke="#0d0d0d" stroke-width="1.0" stroke-linecap="butt"/>
<text x="423" y="489.3" font-size="5.6" font-weight="bold" text-anchor="end" textLength="17.8" lengthAdjust="spacingAndGlyphs">2.0×10</text>
<text x="423.1" y="487.2" font-size="3.7" font-weight="bold" text-anchor="start">6</text>
<line x1="427.2" y1="502.5" x2="430.4" y2="502.5" stroke="#0d0d0d" stroke-width="1.0" stroke-linecap="butt"/>
<text x="423" y="504.6" font-size="5.6" font-weight="bold" text-anchor="end" textLength="17.8" lengthAdjust="spacingAndGlyphs">1.5×10</text>
<text x="423.1" y="502.5" font-size="3.7" font-weight="bold" text-anchor="start">6</text>
<line x1="427.2" y1="517.5" x2="430.4" y2="517.5" stroke="#0d0d0d" stroke-width="1.0" stroke-linecap="butt"/>
<text x="423" y="520.2" font-size="5.6" font-weight="bold" text-anchor="end" textLength="17.8" lengthAdjust="spacingAndGlyphs">1.0×10</text>
<text x="423.1" y="518.1" font-size="3.7" font-weight="bold" text-anchor="start">6</text>
<line x1="427.2" y1="533.5" x2="430.4" y2="533.5" stroke="#0d0d0d" stroke-width="1.0" stroke-linecap="butt"/>
<text x="423" y="535.7" font-size="5.6" font-weight="bold" text-anchor="end" textLength="17.8" lengthAdjust="spacingAndGlyphs">5.0×10</text>
<text x="423.1" y="533.6" font-size="3.7" font-weight="bold" text-anchor="start">5</text>
<line x1="427.2" y1="549.5" x2="430.4" y2="549.5" stroke="#0d0d0d" stroke-width="1.0" stroke-linecap="butt"/>
<text x="425.4" y="551.3" font-size="5.6" font-weight="bold" text-anchor="end">0.0</text>
<line x1="430.5" y1="548.8" x2="430.5" y2="552" stroke="#0d0d0d" stroke-width="1.0" stroke-linecap="butt"/>
<text x="430.4" y="558" font-size="5.6" font-weight="bold" text-anchor="middle">0</text>
<line x1="459.5" y1="548.8" x2="459.5" y2="552" stroke="#0d0d0d" stroke-width="1.0" stroke-linecap="butt"/>
<text x="459.4" y="558" font-size="5.6" font-weight="bold" text-anchor="middle">2</text>
<line x1="488.5" y1="548.8" x2="488.5" y2="552" stroke="#0d0d0d" stroke-width="1.0" stroke-linecap="butt"/>
<text x="488.6" y="558" font-size="5.6" font-weight="bold" text-anchor="middle">4</text>
<line x1="517.5" y1="548.8" x2="517.5" y2="552" stroke="#0d0d0d" stroke-width="1.0" stroke-linecap="butt"/>
<text x="517.4" y="558" font-size="5.6" font-weight="bold" text-anchor="middle">6</text>
<line x1="546.5" y1="548.8" x2="546.5" y2="552" stroke="#0d0d0d" stroke-width="1.0" stroke-linecap="butt"/>
<text x="546.3" y="558" font-size="5.6" font-weight="bold" text-anchor="middle">8</text>
<text transform="translate(396.4,512.2) rotate(-90)" x="0" y="0" font-size="7.7" font-weight="bold" text-anchor="middle" textLength="46.1" lengthAdjust="spacingAndGlyphs">T-cells (/mL)</text>
<text x="465.9" y="569.2" font-size="8" font-weight="bold" text-anchor="start" textLength="44.9" lengthAdjust="spacingAndGlyphs">Log M-MDSC</text>
<text x="441.9" y="466.7" font-size="6.8" font-weight="bold" text-anchor="start" textLength="36.2" lengthAdjust="spacingAndGlyphs">rho = -0.38</text>
<text x="441.9" y="475.2" font-size="7.4" text-anchor="start" textLength="22.2" lengthAdjust="spacingAndGlyphs">p=0.02</text>
<circle cx="470.3" cy="479.7" r="1.55" fill="#0d0d0d"/>
<circle cx="465.4" cy="493" r="1.55" fill="#0d0d0d"/>
<circle cx="453.2" cy="497.2" r="1.55" fill="#0d0d0d"/>
<circle cx="460.2" cy="504.8" r="1.55" fill="#0d0d0d"/>
<circle cx="464.3" cy="503.3" r="1.55" fill="#0d0d0d"/>
<circle cx="455.5" cy="510.8" r="1.55" fill="#0d0d0d"/>
<circle cx="462.9" cy="511.1" r="1.55" fill="#0d0d0d"/>
<circle cx="465.4" cy="514.6" r="1.55" fill="#0d0d0d"/>
<circle cx="469.9" cy="517.6" r="1.55" fill="#0d0d0d"/>
<circle cx="459.4" cy="519.3" r="1.55" fill="#0d0d0d"/>
<circle cx="463.7" cy="519.6" r="1.55" fill="#0d0d0d"/>
<circle cx="476.8" cy="520.6" r="1.55" fill="#0d0d0d"/>
<circle cx="488.2" cy="521" r="1.55" fill="#0d0d0d"/>
<circle cx="495.8" cy="521.7" r="1.55" fill="#0d0d0d"/>
<circle cx="460.8" cy="524.9" r="1.55" fill="#0d0d0d"/>
<circle cx="463.7" cy="525.5" r="1.55" fill="#0d0d0d"/>
<circle cx="468.7" cy="526.4" r="1.55" fill="#0d0d0d"/>
<circle cx="475.9" cy="528.4" r="1.55" fill="#0d0d0d"/>
<circle cx="461" cy="531.1" r="1.55" fill="#0d0d0d"/>
<circle cx="465.1" cy="533.1" r="1.55" fill="#0d0d0d"/>
<circle cx="471.6" cy="531.9" r="1.55" fill="#0d0d0d"/>
<circle cx="471.3" cy="534.2" r="1.55" fill="#0d0d0d"/>
<circle cx="474.8" cy="534.2" r="1.55" fill="#0d0d0d"/>
<circle cx="479.5" cy="532.5" r="1.55" fill="#0d0d0d"/>
<circle cx="485.3" cy="530.5" r="1.55" fill="#0d0d0d"/>
<circle cx="502.5" cy="530.1" r="1.55" fill="#0d0d0d"/>
<circle cx="471.6" cy="537.2" r="1.55" fill="#0d0d0d"/>
<circle cx="460.5" cy="539.5" r="1.55" fill="#0d0d0d"/>
<circle cx="462.8" cy="538.9" r="1.55" fill="#0d0d0d"/>
<circle cx="457.5" cy="542.8" r="1.55" fill="#0d0d0d"/>
<circle cx="473.6" cy="540.9" r="1.55" fill="#0d0d0d"/>
<circle cx="474.4" cy="544.7" r="1.55" fill="#0d0d0d"/>
<circle cx="477.5" cy="542.1" r="1.55" fill="#0d0d0d"/>
<circle cx="480.6" cy="539.7" r="1.55" fill="#0d0d0d"/>
<circle cx="482.6" cy="539.7" r="1.55" fill="#0d0d0d"/>
<circle cx="486.2" cy="537.2" r="1.55" fill="#0d0d0d"/>
<circle cx="488.8" cy="541.2" r="1.55" fill="#0d0d0d"/>
<circle cx="497.2" cy="535" r="1.55" fill="#0d0d0d"/>
<circle cx="515.1" cy="535.4" r="1.55" fill="#0d0d0d"/>
<line x1="452.9" y1="518.1" x2="515.7" y2="542.4" stroke="#0d0d0d" stroke-width="0.75" stroke-linecap="butt"/>
<text x="2.4" y="9.5" font-size="17.4" font-weight="bold" text-anchor="start" textLength="8.9" lengthAdjust="spacingAndGlyphs">a</text>
<text x="2.6" y="320" font-size="16.5" font-weight="bold" text-anchor="start">b</text>
<text x="196.9" y="318" font-size="16.5" font-weight="bold" text-anchor="start">c</text>
<text x="-0.6" y="618.8" font-size="17.4" font-weight="bold" text-anchor="start">d</text>
</g>
</svg>
</body></html>
